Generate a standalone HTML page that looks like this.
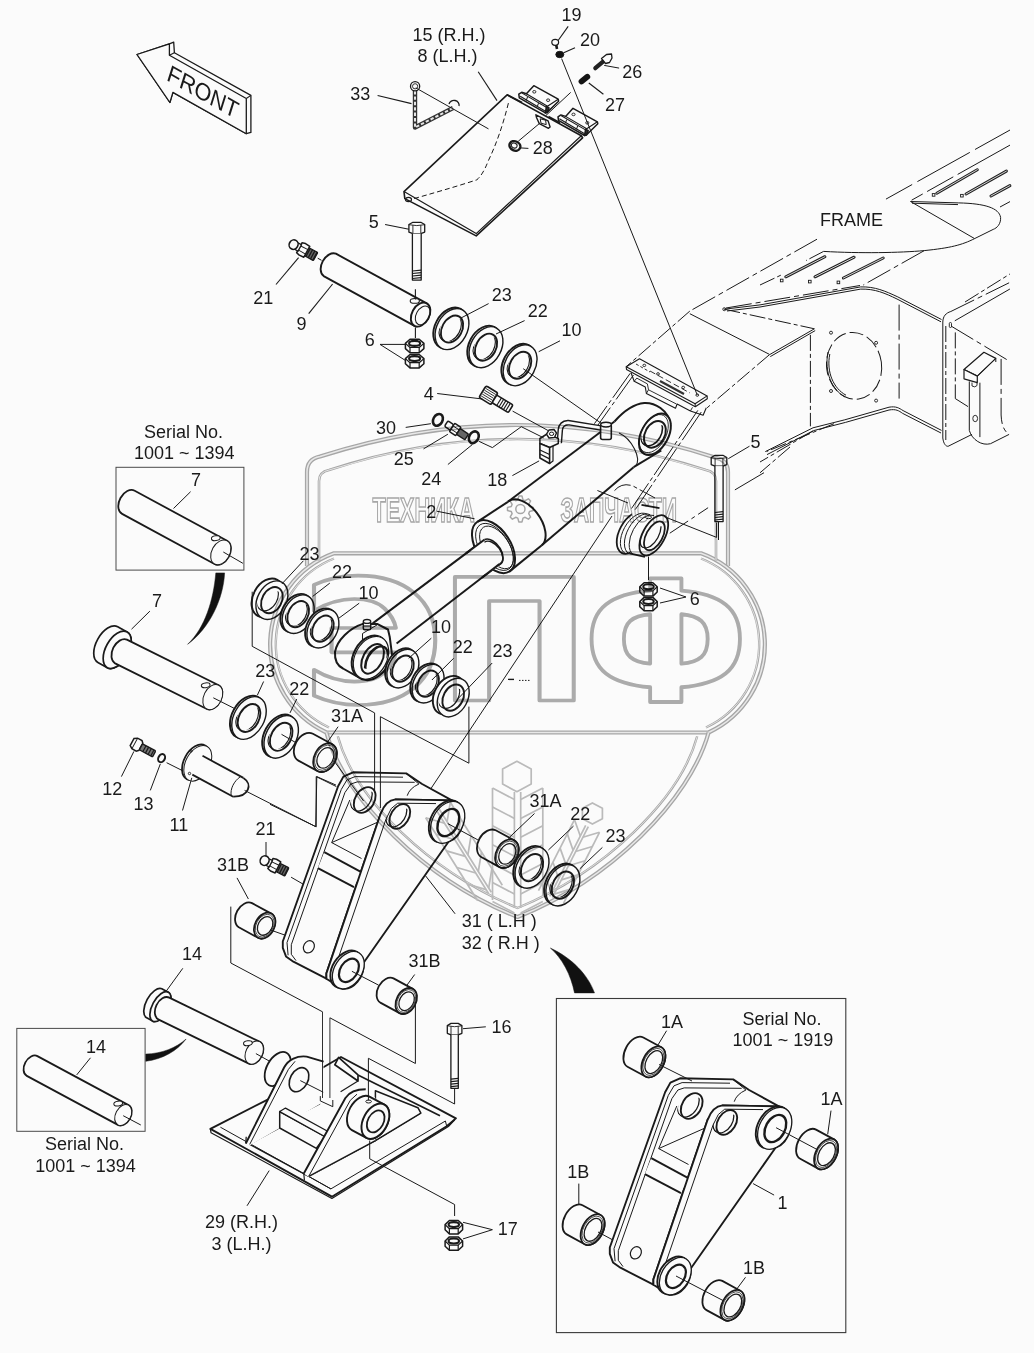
<!DOCTYPE html>
<html><head><meta charset="utf-8"><title>Parts diagram</title>
<style>
html,body{margin:0;padding:0;background:#fbfbfb;}
svg{display:block;will-change:transform;}
svg text{font-family:"Liberation Sans",sans-serif;}
</style></head><body>
<svg width="1034" height="1353" viewBox="0 0 1034 1353">
<rect width="1034" height="1353" fill="#fbfbfb"/>
<polygon points="137.0,54.5 169.4,43.9 173.7,42.1 174.4,52.7 250.9,95.4 250.9,132.4 246.3,133.7 172.9,92.4 169.9,102.5" fill="#fbfbfb" stroke="#1a1a1a" stroke-width="1.3" stroke-linejoin="round"/>
<polygon points="137.0,54.5 169.4,43.9 169.4,55.2 246.3,98.5 246.3,133.7 172.9,92.4 169.9,102.5" fill="#fbfbfb" stroke="#1a1a1a" stroke-width="1.3" stroke-linejoin="round"/>
<line x1="246.3" y1="98.5" x2="250.9" y2="95.4" stroke="#1a1a1a" stroke-width="1.1" stroke-linecap="butt"/>
<line x1="169.4" y1="55.2" x2="174.4" y2="52.7" stroke="#1a1a1a" stroke-width="1.1" stroke-linecap="butt"/>
<text x="0" y="0" font-size="23.2" fill="#1a1a1a" transform="matrix(0.872,0.49,-0.30,0.954,165.8,79.8)">FRONT</text>
<line x1="478.2" y1="71.7" x2="497.0" y2="100.6" stroke="#1a1a1a" stroke-width="1.1" stroke-linecap="butt"/>
<line x1="377.6" y1="95.5" x2="411.5" y2="103.6" stroke="#1a1a1a" stroke-width="1.1" stroke-linecap="butt"/>
<line x1="568.2" y1="26.4" x2="557.4" y2="41.5" stroke="#1a1a1a" stroke-width="1.1" stroke-linecap="butt"/>
<line x1="575.0" y1="47.8" x2="563.7" y2="52.8" stroke="#1a1a1a" stroke-width="1.1" stroke-linecap="butt"/>
<line x1="588.8" y1="83.0" x2="603.4" y2="94.3" stroke="#1a1a1a" stroke-width="1.1" stroke-linecap="butt"/>
<line x1="385.1" y1="224.5" x2="409.0" y2="229.3" stroke="#1a1a1a" stroke-width="1.1" stroke-linecap="butt"/>
<line x1="276.0" y1="284.5" x2="298.6" y2="257.6" stroke="#1a1a1a" stroke-width="1.1" stroke-linecap="butt"/>
<line x1="308.7" y1="313.7" x2="332.6" y2="284.0" stroke="#1a1a1a" stroke-width="1.1" stroke-linecap="butt"/>
<polygon points="507.1,94.8 404.0,191.6 404.8,198.6 476.2,235.9 582.6,137.8 581.3,135.8" fill="#fbfbfb" stroke="#1a1a1a" stroke-width="1.6" stroke-linejoin="round"/>
<polyline points="404.0,191.6 476.2,233.6 581.3,135.8" fill="none" stroke="#1a1a1a" stroke-width="1.2" stroke-linejoin="round"/>
<line x1="507.1" y1="94.8" x2="522.0" y2="102.5" stroke="#1a1a1a" stroke-width="1.6" stroke-linecap="butt"/>
<path d="M508.4,103.1 C503,125 496,145 488.2,161 C484,172 480,177 476.9,179.8 C455,187 430,194 414.1,198.6" fill="none" stroke="#1a1a1a" stroke-width="1.0" stroke-dasharray="5 3" stroke-linejoin="round" />
<ellipse cx="408.5" cy="199.5" rx="3.0" ry="2.2" transform="rotate(0.0 408.5 199.5)" fill="none" stroke="#1a1a1a" stroke-width="1.2"/>
<polyline points="415.0,91.0 415.0,127.5 453.0,108.0" fill="none" stroke="#333" stroke-width="4.4" stroke-linejoin="round"/>
<polyline points="415.0,91.0 415.0,127.5 453.0,108.0" fill="none" stroke="#e4e4e4" stroke-width="2.0" stroke-dasharray="3.4 2" stroke-linejoin="round"/>
<ellipse cx="415.1" cy="86.3" rx="4.6" ry="4.6" transform="rotate(0.0 415.1 86.3)" fill="none" stroke="#1a1a1a" stroke-width="1.3"/>
<ellipse cx="415.1" cy="86.3" rx="2.6" ry="2.6" transform="rotate(0.0 415.1 86.3)" fill="#fbfbfb" stroke="#1a1a1a" stroke-width="0.9"/>
<path d="M449,104 A5,4.5 0 0 1 459,106" fill="none" stroke="#1a1a1a" stroke-width="1.3" stroke-linejoin="round" />
<line x1="415.8" y1="87.9" x2="488.5" y2="128.9" stroke="#1a1a1a" stroke-width="1.0" stroke-linecap="butt"/>
<polygon points="533.8,85.7 558.2,99.2 558.6,101.2 547.2,112.4 545.4,112.9 519.3,97.8 518.8,94.2 521.7,92.3 526.4,93.8" fill="#fbfbfb" stroke="#1a1a1a" stroke-width="1.5" stroke-linejoin="round"/>
<polyline points="526.4,93.8 547.5,106.2 558.2,99.2" fill="none" stroke="#1a1a1a" stroke-width="1.1" stroke-linejoin="round"/>
<line x1="521.7" y1="92.9" x2="546.7" y2="107.5" stroke="#1a1a1a" stroke-width="1.1" stroke-linecap="butt"/>
<line x1="520.2" y1="96.2" x2="545.4" y2="111.2" stroke="#1a1a1a" stroke-width="1.1" stroke-linecap="butt"/>
<line x1="527.5" y1="97.0" x2="526.2" y2="100.6" stroke="#1a1a1a" stroke-width="1.0" stroke-linecap="butt"/>
<line x1="538.5" y1="103.2" x2="537.2" y2="106.8" stroke="#1a1a1a" stroke-width="1.0" stroke-linecap="butt"/>
<ellipse cx="534.3" cy="91.8" rx="1.6" ry="1.3" transform="rotate(0.0 534.3 91.8)" fill="none" stroke="#1a1a1a" stroke-width="0.9"/>
<ellipse cx="548.1" cy="100.2" rx="1.6" ry="1.3" transform="rotate(0.0 548.1 100.2)" fill="none" stroke="#1a1a1a" stroke-width="0.9"/>
<polygon points="545.4,112.9 547.2,112.4 549.0,108.0 546.5,106.5" fill="#333" stroke="#1a1a1a" stroke-width="1.6" stroke-linejoin="round"/>
<polygon points="573.0,108.3 597.4,121.8 597.8,123.8 586.4,135.0 584.6,135.5 558.5,120.4 558.0,116.8 560.9,114.9 565.6,116.4" fill="#fbfbfb" stroke="#1a1a1a" stroke-width="1.5" stroke-linejoin="round"/>
<polyline points="565.6,116.4 586.7,128.8 597.4,121.8" fill="none" stroke="#1a1a1a" stroke-width="1.1" stroke-linejoin="round"/>
<line x1="560.9" y1="115.5" x2="585.9" y2="130.1" stroke="#1a1a1a" stroke-width="1.1" stroke-linecap="butt"/>
<line x1="559.4" y1="118.8" x2="584.6" y2="133.8" stroke="#1a1a1a" stroke-width="1.1" stroke-linecap="butt"/>
<line x1="566.7" y1="119.6" x2="565.4" y2="123.2" stroke="#1a1a1a" stroke-width="1.0" stroke-linecap="butt"/>
<line x1="577.7" y1="125.8" x2="576.4" y2="129.4" stroke="#1a1a1a" stroke-width="1.0" stroke-linecap="butt"/>
<ellipse cx="573.5" cy="114.4" rx="1.6" ry="1.3" transform="rotate(0.0 573.5 114.4)" fill="none" stroke="#1a1a1a" stroke-width="0.9"/>
<ellipse cx="587.3" cy="122.8" rx="1.6" ry="1.3" transform="rotate(0.0 587.3 122.8)" fill="none" stroke="#1a1a1a" stroke-width="0.9"/>
<polygon points="584.6,135.5 586.4,135.0 588.2,130.6 585.7,129.1" fill="#333" stroke="#1a1a1a" stroke-width="1.6" stroke-linejoin="round"/>
<polygon points="535.9,114.8 548.1,120.9 550.1,127.0 548.5,128.3 539.3,123.6 536.5,117.5" fill="#fbfbfb" stroke="#1a1a1a" stroke-width="1.4" stroke-linejoin="round"/>
<polygon points="540.2,118.8 545.6,120.2 546.2,124.6 541.0,123.2" fill="none" stroke="#1a1a1a" stroke-width="1.0" stroke-linejoin="round"/>
<line x1="546.0" y1="115.4" x2="570.7" y2="92.4" stroke="#1a1a1a" stroke-width="1.0" stroke-linecap="butt"/>
<line x1="518.3" y1="141.2" x2="539.3" y2="123.6" stroke="#1a1a1a" stroke-width="1.0" stroke-linecap="butt"/>
<line x1="548.5" y1="116.5" x2="560.0" y2="122.8" stroke="#1a1a1a" stroke-width="1.6" stroke-linecap="butt"/>
<ellipse cx="514.9" cy="145.9" rx="5.6" ry="4.6" transform="rotate(25.0 514.9 145.9)" fill="#fbfbfb" stroke="#1a1a1a" stroke-width="2.4"/>
<ellipse cx="514.2" cy="145.5" rx="3.0" ry="2.4" transform="rotate(25.0 514.2 145.5)" fill="none" stroke="#1a1a1a" stroke-width="1.0"/>
<line x1="520.3" y1="147.9" x2="528.4" y2="148.4" stroke="#1a1a1a" stroke-width="1.0" stroke-linecap="butt"/>
<ellipse cx="555.2" cy="42.3" rx="3.4" ry="3.0" transform="rotate(0.0 555.2 42.3)" fill="#fbfbfb" stroke="#1a1a1a" stroke-width="1.2"/>
<line x1="556.2" y1="45.0" x2="557.0" y2="49.0" stroke="#1a1a1a" stroke-width="2.6" stroke-linecap="butt"/>
<ellipse cx="559.8" cy="54.5" rx="4.0" ry="3.2" transform="rotate(0.0 559.8 54.5)" fill="#111" stroke="#1a1a1a" stroke-width="1"/>
<line x1="595.3" y1="68.2" x2="604.5" y2="60.3" stroke="#222" stroke-width="4.2" stroke-linecap="round"/>
<polygon points="601.5,58.5 606.5,54.5 611.5,54.0 612.0,58.0 609.5,62.5 605.5,63.5" fill="#fbfbfb" stroke="#1a1a1a" stroke-width="1.3" stroke-linejoin="round"/>
<line x1="604.2" y1="65.4" x2="619.1" y2="68.1" stroke="#1a1a1a" stroke-width="1.0" stroke-linecap="butt"/>
<line x1="581.5" y1="81.5" x2="587.3" y2="76.8" stroke="#151515" stroke-width="5.8" stroke-linecap="round"/>
<polygon points="408.9,224.5 412.9,222.3 420.8,222.3 424.7,224.5 424.7,232.1 420.8,233.6 412.9,233.6 408.9,232.1" fill="#fbfbfb" stroke="#1a1a1a" stroke-width="1.3" stroke-linejoin="round"/>
<line x1="412.9" y1="225.1" x2="412.9" y2="233.6" stroke="#1a1a1a" stroke-width="0.9" stroke-linecap="butt"/>
<line x1="420.8" y1="225.1" x2="420.8" y2="233.6" stroke="#1a1a1a" stroke-width="0.9" stroke-linecap="butt"/>
<path d="M408.90000000000003,224.70000000000002 Q416.8,226.5 424.7,224.70000000000002" fill="none" stroke="#1a1a1a" stroke-width="0.9" stroke-linejoin="round" />
<polyline points="412.4,233.6 412.4,280.1 421.2,280.1 421.2,233.6" fill="#fbfbfb" stroke="#1a1a1a" stroke-width="1.3" stroke-linejoin="round"/>
<line x1="412.4" y1="278.5" x2="421.2" y2="277.7" stroke="#1a1a1a" stroke-width="1.2" stroke-linecap="butt"/>
<line x1="412.4" y1="276.0" x2="421.2" y2="275.2" stroke="#1a1a1a" stroke-width="1.2" stroke-linecap="butt"/>
<line x1="412.4" y1="273.5" x2="421.2" y2="272.7" stroke="#1a1a1a" stroke-width="1.2" stroke-linecap="butt"/>
<line x1="412.4" y1="271.0" x2="421.2" y2="270.2" stroke="#1a1a1a" stroke-width="1.2" stroke-linecap="butt"/>
<path d="M323.7,276.1 L414.5,325.8 A8.7,12.8 28.7 0 0 426.7,303.4 L335.9,253.7 A8.7,12.8 28.7 0 0 323.7,276.1 Z" fill="#fbfbfb" stroke="#1a1a1a" stroke-width="1.9" stroke-linejoin="round"/>
<ellipse cx="420.6" cy="314.6" rx="8.7" ry="12.8" transform="rotate(28.7 420.6 314.6)" fill="#fbfbfb" stroke="#1a1a1a" stroke-width="1.9"/>
<ellipse cx="422.8" cy="315.4" rx="6.6" ry="10.0" transform="rotate(28.5 422.8 315.4)" fill="none" stroke="#1a1a1a" stroke-width="1.0"/>
<ellipse cx="414.8" cy="300.9" rx="4.6" ry="2.4" transform="rotate(0.0 414.8 300.9)" fill="#fbfbfb" stroke="#1a1a1a" stroke-width="1.1"/>
<line x1="415.4" y1="289.3" x2="415.4" y2="299.5" stroke="#1a1a1a" stroke-width="1.1" stroke-linecap="butt"/>
<line x1="415.4" y1="327.6" x2="415.4" y2="338.0" stroke="#1a1a1a" stroke-width="1.1" stroke-linecap="butt"/>
<polygon points="405.4,358.6 410.0,354.5 419.2,354.5 423.9,358.6 423.9,363.8 419.2,367.9 410.0,367.9 405.4,363.8" fill="#fbfbfb" stroke="#1a1a1a" stroke-width="1.5" stroke-linejoin="round"/>
<polyline points="405.4,358.6 410.0,362.7 419.2,362.7 423.9,358.6" fill="none" stroke="#1a1a1a" stroke-width="1.2000000000000002" stroke-linejoin="round"/>
<line x1="410.0" y1="362.7" x2="410.0" y2="367.9" stroke="#1a1a1a" stroke-width="1.2000000000000002" stroke-linecap="butt"/>
<line x1="419.2" y1="362.7" x2="419.2" y2="367.9" stroke="#1a1a1a" stroke-width="1.2000000000000002" stroke-linecap="butt"/>
<ellipse cx="414.6" cy="358.6" rx="5.5" ry="2.5" transform="rotate(0.0 414.6 358.6)" fill="#fbfbfb" stroke="#1a1a1a" stroke-width="2.0999999999999996"/>
<polygon points="405.4,343.4 410.0,339.3 419.2,339.3 423.9,343.4 423.9,348.6 419.2,352.7 410.0,352.7 405.4,348.6" fill="#fbfbfb" stroke="#1a1a1a" stroke-width="1.5" stroke-linejoin="round"/>
<polyline points="405.4,343.4 410.0,347.5 419.2,347.5 423.9,343.4" fill="none" stroke="#1a1a1a" stroke-width="1.2000000000000002" stroke-linejoin="round"/>
<line x1="410.0" y1="347.5" x2="410.0" y2="352.7" stroke="#1a1a1a" stroke-width="1.2000000000000002" stroke-linecap="butt"/>
<line x1="419.2" y1="347.5" x2="419.2" y2="352.7" stroke="#1a1a1a" stroke-width="1.2000000000000002" stroke-linecap="butt"/>
<ellipse cx="414.6" cy="343.4" rx="5.5" ry="2.5" transform="rotate(0.0 414.6 343.4)" fill="#fbfbfb" stroke="#1a1a1a" stroke-width="2.0999999999999996"/>
<line x1="380.0" y1="344.4" x2="405.0" y2="344.4" stroke="#1a1a1a" stroke-width="1.0" stroke-linecap="butt"/>
<line x1="380.0" y1="344.4" x2="405.5" y2="360.5" stroke="#1a1a1a" stroke-width="1.0" stroke-linecap="butt"/>
<ellipse cx="450.2" cy="328.1" rx="15.2" ry="21.8" transform="rotate(28.5 450.2 328.1)" fill="#fbfbfb" stroke="#1a1a1a" stroke-width="1.9"/>
<ellipse cx="452.0" cy="329.1" rx="15.2" ry="21.8" transform="rotate(28.5 452.0 329.1)" fill="#fbfbfb" stroke="#1a1a1a" stroke-width="1.4249999999999998"/>
<ellipse cx="452.0" cy="329.1" rx="10.0" ry="14.4" transform="rotate(28.5 452.0 329.1)" fill="#fbfbfb" stroke="#1a1a1a" stroke-width="1.9"/>
<clipPath id="c4520_3291"><ellipse cx="452.0" cy="329.1" rx="10.0" ry="14.4" transform="rotate(28.5 452.0 329.1)"/></clipPath>
<ellipse cx="450.2" cy="328.1" rx="10.0" ry="14.4" transform="rotate(28.5 450.2 328.1)" fill="none" stroke="#1a1a1a" stroke-width="1.14" clip-path="url(#c4520_3291)"/>
<ellipse cx="484.2" cy="346.2" rx="15.2" ry="21.8" transform="rotate(28.5 484.2 346.2)" fill="#fbfbfb" stroke="#1a1a1a" stroke-width="1.9"/>
<ellipse cx="486.0" cy="347.2" rx="15.2" ry="21.8" transform="rotate(28.5 486.0 347.2)" fill="#fbfbfb" stroke="#1a1a1a" stroke-width="1.4249999999999998"/>
<ellipse cx="486.0" cy="347.2" rx="10.0" ry="14.4" transform="rotate(28.5 486.0 347.2)" fill="#fbfbfb" stroke="#1a1a1a" stroke-width="1.9"/>
<clipPath id="c4860_3472"><ellipse cx="486.0" cy="347.2" rx="10.0" ry="14.4" transform="rotate(28.5 486.0 347.2)"/></clipPath>
<ellipse cx="484.2" cy="346.2" rx="10.0" ry="14.4" transform="rotate(28.5 484.2 346.2)" fill="none" stroke="#1a1a1a" stroke-width="1.14" clip-path="url(#c4860_3472)"/>
<ellipse cx="518.3" cy="364.3" rx="15.2" ry="21.8" transform="rotate(28.5 518.3 364.3)" fill="#fbfbfb" stroke="#1a1a1a" stroke-width="1.9"/>
<ellipse cx="520.1" cy="365.3" rx="15.2" ry="21.8" transform="rotate(28.5 520.1 365.3)" fill="#fbfbfb" stroke="#1a1a1a" stroke-width="1.4249999999999998"/>
<ellipse cx="520.1" cy="365.3" rx="10.0" ry="14.4" transform="rotate(28.5 520.1 365.3)" fill="#fbfbfb" stroke="#1a1a1a" stroke-width="1.9"/>
<clipPath id="c5201_3653"><ellipse cx="520.1" cy="365.3" rx="10.0" ry="14.4" transform="rotate(28.5 520.1 365.3)"/></clipPath>
<ellipse cx="518.3" cy="364.3" rx="10.0" ry="14.4" transform="rotate(28.5 518.3 364.3)" fill="none" stroke="#1a1a1a" stroke-width="1.14" clip-path="url(#c5201_3653)"/>
<line x1="461.0" y1="318.0" x2="488.6" y2="303.6" stroke="#1a1a1a" stroke-width="1.0" stroke-linecap="butt"/>
<line x1="496.0" y1="334.0" x2="524.6" y2="320.6" stroke="#1a1a1a" stroke-width="1.0" stroke-linecap="butt"/>
<g transform="translate(293.6,244.6) rotate(28.5) scale(1.0)">
<rect x="14.5" y="-4.6" width="10.5" height="9.2" rx="1" fill="#666" stroke="#1a1a1a" stroke-width="1.3"/>
<line x1="16.5" y1="-4.6" x2="16.5" y2="4.6" stroke="#1a1a1a" stroke-width="1.3"/>
<line x1="19.1" y1="-4.6" x2="19.1" y2="4.6" stroke="#1a1a1a" stroke-width="1.3"/>
<line x1="21.7" y1="-4.6" x2="21.7" y2="4.6" stroke="#1a1a1a" stroke-width="1.3"/>
<line x1="24.3" y1="-4.6" x2="24.3" y2="4.6" stroke="#1a1a1a" stroke-width="1.3"/>
<path d="M6.5,-5.6 L10,-6.6 L15,-6.2 L15,6.2 L10,6.6 L6.5,5.6 Z" fill="#fbfbfb" stroke="#1a1a1a" stroke-width="1.5" stroke-linejoin="round"/>
<line x1="7" y1="-2.2" x2="15" y2="-2.4" stroke="#1a1a1a" stroke-width="0.9"/><line x1="7" y1="2.4" x2="15" y2="2.6" stroke="#1a1a1a" stroke-width="0.9"/>
<rect x="2" y="-3.6" width="5" height="7.2" fill="#fbfbfb" stroke="#1a1a1a" stroke-width="1.3"/>
<ellipse cx="0" cy="0" rx="4.4" ry="4.8" fill="#fbfbfb" stroke="#1a1a1a" stroke-width="1.6"/>
</g>
<line x1="317.7" y1="258.2" x2="321.5" y2="260.3" stroke="#1a1a1a" stroke-width="1.0" stroke-linecap="butt"/>
<g transform="translate(484.2,392.6) rotate(31.5)">
<rect x="-2" y="-6.8" width="14" height="13.6" rx="2" fill="#fbfbfb" stroke="#1a1a1a" stroke-width="1.7"/>
<line x1="-1" y1="-4.4" x2="11" y2="-4.4" stroke="#1a1a1a" stroke-width="0.8"/>
<line x1="-1" y1="-2.2" x2="11" y2="-2.2" stroke="#1a1a1a" stroke-width="0.8"/>
<line x1="-1" y1="0.0" x2="11" y2="0.0" stroke="#1a1a1a" stroke-width="0.8"/>
<line x1="-1" y1="2.2" x2="11" y2="2.2" stroke="#1a1a1a" stroke-width="0.8"/>
<line x1="-1" y1="4.4" x2="11" y2="4.4" stroke="#1a1a1a" stroke-width="0.8"/>
<rect x="12" y="-4.5" width="19" height="9" rx="1.5" fill="#fbfbfb" stroke="#1a1a1a" stroke-width="1.6"/>
<line x1="17.5" y1="-4.5" x2="17.5" y2="4.5" stroke="#1a1a1a" stroke-width="1.1"/>
<line x1="20.1" y1="-4.5" x2="20.1" y2="4.5" stroke="#1a1a1a" stroke-width="1.1"/>
<line x1="22.7" y1="-4.5" x2="22.7" y2="4.5" stroke="#1a1a1a" stroke-width="1.1"/>
<line x1="25.3" y1="-4.5" x2="25.3" y2="4.5" stroke="#1a1a1a" stroke-width="1.1"/>
<line x1="27.9" y1="-4.5" x2="27.9" y2="4.5" stroke="#1a1a1a" stroke-width="1.1"/>
</g>
<line x1="437.2" y1="393.5" x2="482.4" y2="399.0" stroke="#1a1a1a" stroke-width="1.0" stroke-linecap="butt"/>
<line x1="512.6" y1="411.1" x2="548.0" y2="430.5" stroke="#1a1a1a" stroke-width="1.0" stroke-linecap="butt"/>
<ellipse cx="437.9" cy="419.9" rx="4.6" ry="6.2" transform="rotate(28.0 437.9 419.9)" fill="none" stroke="#1a1a1a" stroke-width="2.6"/>
<ellipse cx="473.8" cy="437.3" rx="4.6" ry="6.2" transform="rotate(28.0 473.8 437.3)" fill="none" stroke="#1a1a1a" stroke-width="2.6"/>
<g transform="translate(446.2,423.6) rotate(33)">
<rect x="0" y="-3.2" width="7" height="6.4" rx="1.5" fill="#fbfbfb" stroke="#1a1a1a" stroke-width="1.5"/>
<rect x="7" y="-5" width="7.5" height="10" rx="1" fill="#fbfbfb" stroke="#1a1a1a" stroke-width="1.5"/>
<line x1="7" y1="-1.8" x2="14.5" y2="-1.8" stroke="#1a1a1a" stroke-width="0.9"/><line x1="7" y1="2" x2="14.5" y2="2" stroke="#1a1a1a" stroke-width="0.9"/>
<rect x="14.5" y="-3.4" width="10" height="6.8" rx="1" fill="#666" stroke="#1a1a1a" stroke-width="1.4"/>
</g>
<line x1="405.7" y1="427.4" x2="430.9" y2="423.7" stroke="#1a1a1a" stroke-width="1.0" stroke-linecap="butt"/>
<line x1="560.0" y1="340.8" x2="538.7" y2="351.7" stroke="#1a1a1a" stroke-width="1.0" stroke-linecap="butt"/>
<line x1="523.2" y1="368.7" x2="605.4" y2="426.2" stroke="#1a1a1a" stroke-width="1.0" stroke-linecap="butt"/>
<line x1="1010.0" y1="130.0" x2="879.0" y2="203.0" stroke="#1a1a1a" stroke-width="1.0" stroke-dasharray="40 6 60 6 30 200" stroke-linecap="butt"/>
<line x1="817.0" y1="239.2" x2="689.8" y2="311.1" stroke="#1a1a1a" stroke-width="1.0" stroke-dasharray="26 4 5 4" stroke-linecap="butt"/>
<line x1="689.8" y1="311.1" x2="626.2" y2="366.7" stroke="#1a1a1a" stroke-width="1.0" stroke-dasharray="16 3 4 3" stroke-linecap="butt"/>
<line x1="1010.0" y1="145.1" x2="911.6" y2="200.2" stroke="#1a1a1a" stroke-width="1.0" stroke-dasharray="60 5 30 5" stroke-linecap="butt"/>
<line x1="936.8" y1="193.2" x2="977.3" y2="169.7" stroke="#222" stroke-width="3.0" stroke-linecap="round"/>
<line x1="936.8" y1="193.2" x2="977.3" y2="169.7" stroke="#e8e8e8" stroke-width="0.9" stroke-linecap="round"/>
<line x1="966.0" y1="194.0" x2="1006.4" y2="171.1" stroke="#222" stroke-width="3.0" stroke-linecap="round"/>
<line x1="966.0" y1="194.0" x2="1006.4" y2="171.1" stroke="#e8e8e8" stroke-width="0.9" stroke-linecap="round"/>
<line x1="991.0" y1="196.0" x2="1009.9" y2="185.6" stroke="#222" stroke-width="3.0" stroke-linecap="round"/>
<line x1="991.0" y1="196.0" x2="1009.9" y2="185.6" stroke="#e8e8e8" stroke-width="0.9" stroke-linecap="round"/>
<rect x="932.3000000000001" y="193.6" width="2.6" height="2.6" fill="none" stroke="#1a1a1a" stroke-width="0.9"/>
<rect x="960.6" y="194.39999999999998" width="2.6" height="2.6" fill="none" stroke="#1a1a1a" stroke-width="0.9"/>
<path d="M910.5,201.5 L958.7,202.9 C985,203.5 999,208 1000.6,217.4 C1001,224 997,228 993.2,229.4 L974.6,238.6 C962,245 950,248 924.3,250.6 C900,252.8 860,253.5 823.6,251.4" fill="none" stroke="#1a1a1a" stroke-width="1.0" stroke-linejoin="round" />
<line x1="910.5" y1="201.5" x2="974.6" y2="238.6" stroke="#1a1a1a" stroke-width="1.0" stroke-linecap="butt"/>
<line x1="912.0" y1="203.2" x2="958.0" y2="204.6" stroke="#1a1a1a" stroke-width="1.0" stroke-linecap="butt"/>
<line x1="1000.0" y1="207.0" x2="1010.0" y2="201.6" stroke="#1a1a1a" stroke-width="1.0" stroke-dasharray="16 3 4 3" stroke-linecap="butt"/>
<line x1="785.8" y1="276.8" x2="824.9" y2="256.7" stroke="#222" stroke-width="3.0" stroke-linecap="round"/>
<line x1="785.8" y1="276.8" x2="824.9" y2="256.7" stroke="#e8e8e8" stroke-width="0.9" stroke-linecap="round"/>
<line x1="815.0" y1="276.8" x2="854.1" y2="257.2" stroke="#222" stroke-width="3.0" stroke-linecap="round"/>
<line x1="815.0" y1="276.8" x2="854.1" y2="257.2" stroke="#e8e8e8" stroke-width="0.9" stroke-linecap="round"/>
<line x1="843.4" y1="278.0" x2="883.2" y2="258.0" stroke="#222" stroke-width="3.0" stroke-linecap="round"/>
<line x1="843.4" y1="278.0" x2="883.2" y2="258.0" stroke="#e8e8e8" stroke-width="0.9" stroke-linecap="round"/>
<rect x="780.4000000000001" y="279.2" width="2.6" height="2.6" fill="none" stroke="#1a1a1a" stroke-width="0.9"/>
<rect x="808.5" y="280.3" width="2.6" height="2.6" fill="none" stroke="#1a1a1a" stroke-width="0.9"/>
<rect x="837.1" y="281.09999999999997" width="2.6" height="2.6" fill="none" stroke="#1a1a1a" stroke-width="0.9"/>
<line x1="924.3" y1="250.6" x2="863.3" y2="285.0" stroke="#1a1a1a" stroke-width="1.0" stroke-dasharray="26 4 5 4" stroke-linecap="butt"/>
<line x1="760.0" y1="285.0" x2="782.5" y2="274.4" stroke="#1a1a1a" stroke-width="1.0" stroke-dasharray="16 3 4 3" stroke-linecap="butt"/>
<line x1="823.6" y1="251.4" x2="806.0" y2="260.6" stroke="#1a1a1a" stroke-width="1.0" stroke-dasharray="16 3 4 3" stroke-linecap="butt"/>
<path d="M724.3,309.2 L760,304.9 L860.7,286.9 C875,286.5 885,291 897.8,296.9 L941.5,319.5" fill="none" stroke="#1a1a1a" stroke-width="1.0" stroke-linejoin="round" />
<path d="M727,311 L760,307 L860.7,289.1 C875,288.7 885,293.2 897,299 L941,321.8" fill="none" stroke="#1a1a1a" stroke-width="1.0" stroke-linejoin="round" />
<line x1="726.0" y1="308.0" x2="860.0" y2="285.5" stroke="#1a1a1a" stroke-width="1.0" stroke-dasharray="26 4 5 4" stroke-linecap="butt"/>
<ellipse cx="724.3" cy="309.2" rx="1.5" ry="1.5" transform="rotate(0.0 724.3 309.2)" fill="none" stroke="#1a1a1a" stroke-width="0.9"/>
<line x1="724.3" y1="309.2" x2="814.4" y2="328.8" stroke="#1a1a1a" stroke-width="1.0" stroke-dasharray="16 3 4 3" stroke-linecap="butt"/>
<line x1="814.4" y1="328.8" x2="769.3" y2="354.8" stroke="#1a1a1a" stroke-width="1.0" stroke-linecap="butt"/>
<line x1="815.2" y1="330.6" x2="770.3" y2="356.6" stroke="#1a1a1a" stroke-width="1.0" stroke-linecap="butt"/>
<line x1="769.3" y1="354.8" x2="707.1" y2="407.8" stroke="#1a1a1a" stroke-width="1.0" stroke-dasharray="16 3 4 3" stroke-linecap="butt"/>
<line x1="689.8" y1="313.7" x2="769.3" y2="354.3" stroke="#1a1a1a" stroke-width="1.0" stroke-linecap="butt"/>
<line x1="810.4" y1="334.9" x2="810.4" y2="426.3" stroke="#1a1a1a" stroke-width="1.0" stroke-dasharray="16 3 4 3" stroke-linecap="butt"/>
<line x1="899.1" y1="304.6" x2="899.1" y2="398.6" stroke="#1a1a1a" stroke-width="1.0" stroke-dasharray="26 4 5 4" stroke-linecap="butt"/>
<ellipse cx="854.1" cy="365.8" rx="27.5" ry="33.5" transform="rotate(-8.0 854.1 365.8)" fill="none" stroke="#1a1a1a" stroke-width="1.0" stroke-dasharray="14 4"/>
<path d="M828,352 C824,372 832,390 845,397" fill="none" stroke="#1a1a1a" stroke-width="1.0" stroke-linejoin="round" />
<path d="M829.8,354 C826.2,372 833.5,388.5 846,395.2" fill="none" stroke="#1a1a1a" stroke-width="1.0" stroke-linejoin="round" />
<ellipse cx="831.0" cy="332.7" rx="1.5" ry="1.5" transform="rotate(0.0 831.0 332.7)" fill="none" stroke="#1a1a1a" stroke-width="0.9"/>
<ellipse cx="876.1" cy="342.8" rx="1.5" ry="1.5" transform="rotate(0.0 876.1 342.8)" fill="none" stroke="#1a1a1a" stroke-width="0.9"/>
<ellipse cx="831.0" cy="391.0" rx="1.5" ry="1.5" transform="rotate(0.0 831.0 391.0)" fill="none" stroke="#1a1a1a" stroke-width="0.9"/>
<ellipse cx="876.1" cy="400.6" rx="1.5" ry="1.5" transform="rotate(0.0 876.1 400.6)" fill="none" stroke="#1a1a1a" stroke-width="0.9"/>
<path d="M765.3,451.6 L813,427.8 L844.8,419.8 L889,407.2 C896,406 899,408 903.1,410.6 L941.5,430.4" fill="none" stroke="#1a1a1a" stroke-width="1.0" stroke-linejoin="round" />
<path d="M767,454.6 L813.6,430.6 L845.5,422.4 L889,410 C896,408.8 899,410.8 902.5,413.3 L941,433" fill="none" stroke="#1a1a1a" stroke-width="1.0" stroke-linejoin="round" />
<line x1="834.0" y1="423.7" x2="766.7" y2="451.5" stroke="#1a1a1a" stroke-width="1.0" stroke-dasharray="16 3 4 3" stroke-linecap="butt"/>
<line x1="813.0" y1="431.0" x2="760.0" y2="462.0" stroke="#1a1a1a" stroke-width="1.0" stroke-dasharray="16 3 4 3" stroke-linecap="butt"/>
<line x1="790.0" y1="447.0" x2="760.0" y2="472.8" stroke="#1a1a1a" stroke-width="1.0" stroke-dasharray="16 3 4 3" stroke-linecap="butt"/>
<line x1="764.0" y1="472.7" x2="734.9" y2="489.9" stroke="#1a1a1a" stroke-width="1.0" stroke-linecap="butt"/>
<path d="M942.8,438 L942.8,322 C943,316 946,313 950.8,311.5" fill="none" stroke="#1a1a1a" stroke-width="1.0" stroke-linejoin="round" />
<path d="M942.8,438 C943.5,444 946,446.5 948.1,446.3 L972,434.4" fill="none" stroke="#1a1a1a" stroke-width="1.0" stroke-linejoin="round" />
<line x1="945.8" y1="326.0" x2="945.8" y2="440.0" stroke="#1a1a1a" stroke-width="1.0" stroke-dasharray="16 3 4 3" stroke-linecap="butt"/>
<line x1="950.8" y1="311.5" x2="1009.9" y2="282.4" stroke="#1a1a1a" stroke-width="1.0" stroke-dasharray="26 4 5 4" stroke-linecap="butt"/>
<line x1="954.8" y1="320.8" x2="1009.9" y2="289.0" stroke="#1a1a1a" stroke-width="1.0" stroke-linecap="butt"/>
<line x1="965.0" y1="302.0" x2="1009.9" y2="274.0" stroke="#1a1a1a" stroke-width="1.0" stroke-dasharray="16 3 4 3" stroke-linecap="butt"/>
<rect x="949.3" y="322.5" width="2.2" height="5" rx="1" fill="none" stroke="#1a1a1a" stroke-width="0.9"/>
<line x1="951.0" y1="326.0" x2="1009.1" y2="361.0" stroke="#1a1a1a" stroke-width="1.0" stroke-dasharray="26 4 5 4" stroke-linecap="butt"/>
<line x1="955.3" y1="332.4" x2="955.3" y2="398.6" stroke="#1a1a1a" stroke-width="1.0" stroke-dasharray="16 3 4 3" stroke-linecap="butt"/>
<line x1="955.3" y1="398.6" x2="968.0" y2="406.6" stroke="#1a1a1a" stroke-width="1.0" stroke-linecap="butt"/>
<polygon points="964.0,369.5 983.9,352.3 995.8,358.4 977.3,376.1" fill="#fbfbfb" stroke="#1a1a1a" stroke-width="1.2" stroke-linejoin="round"/>
<polygon points="964.0,369.5 977.3,376.1 977.3,382.7 964.0,378.8" fill="#fbfbfb" stroke="#1a1a1a" stroke-width="1.2" stroke-linejoin="round"/>
<polyline points="977.3,376.1 995.8,358.4 995.8,362.0" fill="none" stroke="#1a1a1a" stroke-width="1.0" stroke-linejoin="round"/>
<line x1="969.3" y1="381.4" x2="969.3" y2="430.4" stroke="#1a1a1a" stroke-width="1.0" stroke-linecap="butt"/>
<line x1="979.9" y1="382.7" x2="979.9" y2="437.1" stroke="#1a1a1a" stroke-width="1.0" stroke-linecap="butt"/>
<path d="M972,382.5 L972,386 Q975,388 977,385.5 L977,383" fill="none" stroke="#1a1a1a" stroke-width="0.9" stroke-linejoin="round" />
<ellipse cx="975.2" cy="418.5" rx="2.4" ry="3.2" transform="rotate(0.0 975.2 418.5)" fill="none" stroke="#1a1a1a" stroke-width="0.9"/>
<path d="M969.3,430.4 C972,440 982,446 990.5,443.7 L1009.1,434.4" fill="none" stroke="#1a1a1a" stroke-width="1.0" stroke-linejoin="round" />
<path d="M1001.1,358.9 L1001.1,415 C1001.5,425 1004,431 1009.1,434.4" fill="none" stroke="#1a1a1a" stroke-width="1.0" stroke-dasharray="26 4 5 4" stroke-linejoin="round" />
<polygon points="626.2,366.7 639.5,358.8 707.1,395.9 695.1,403.8" fill="#fbfbfb" stroke="#1a1a1a" stroke-width="1.1" stroke-linejoin="round"/>
<polyline points="626.2,366.7 626.5,369.5 695.3,406.8 707.3,398.8 707.1,395.9" fill="none" stroke="#1a1a1a" stroke-width="1.1" stroke-linejoin="round"/>
<line x1="695.1" y1="403.8" x2="695.3" y2="406.8" stroke="#1a1a1a" stroke-width="1.0" stroke-linecap="butt"/>
<polyline points="631.0,372.8 634.2,381.3 645.3,387.1 646.4,393.5 675.5,408.3 677.1,404.1 690.4,411.0 703.1,415.2 706.3,407.8" fill="none" stroke="#1a1a1a" stroke-width="1.1" stroke-linejoin="round"/>
<polyline points="634.2,381.3 636.8,378.1 647.4,383.9 648.5,389.8 676.6,404.1" fill="none" stroke="#1a1a1a" stroke-width="0.9" stroke-linejoin="round"/>
<polyline points="646.4,393.5 648.5,389.8" fill="none" stroke="#1a1a1a" stroke-width="0.9" stroke-linejoin="round"/>
<line x1="690.4" y1="411.0" x2="692.5" y2="407.3" stroke="#1a1a1a" stroke-width="0.9" stroke-linecap="butt"/>
<ellipse cx="644.3" cy="365.4" rx="1.4" ry="1.2" transform="rotate(0.0 644.3 365.4)" fill="none" stroke="#1a1a1a" stroke-width="0.9"/>
<ellipse cx="658.0" cy="373.9" rx="1.4" ry="1.2" transform="rotate(0.0 658.0 373.9)" fill="none" stroke="#1a1a1a" stroke-width="0.9"/>
<ellipse cx="683.2" cy="387.4" rx="1.4" ry="1.2" transform="rotate(0.0 683.2 387.4)" fill="none" stroke="#1a1a1a" stroke-width="0.9"/>
<ellipse cx="697.3" cy="395.1" rx="1.4" ry="1.2" transform="rotate(0.0 697.3 395.1)" fill="none" stroke="#1a1a1a" stroke-width="0.9"/>
<line x1="660.0" y1="381.0" x2="684.0" y2="394.0" stroke="#333" stroke-width="2.2" stroke-linecap="butt"/>
<line x1="636.0" y1="364.0" x2="650.0" y2="372.0" stroke="#1a1a1a" stroke-width="0.9" stroke-dasharray="3 2" stroke-linecap="butt"/>
<line x1="650.0" y1="371.0" x2="690.0" y2="393.0" stroke="#1a1a1a" stroke-width="0.9" stroke-dasharray="6 3" stroke-linecap="butt"/>
<line x1="630.2" y1="373.3" x2="594.4" y2="423.7" stroke="#1a1a1a" stroke-width="1.0" stroke-dasharray="30 3 4 3" stroke-linecap="butt"/>
<line x1="633.5" y1="375.0" x2="598.0" y2="425.0" stroke="#1a1a1a" stroke-width="1.0" stroke-dasharray="30 3 4 3" stroke-linecap="butt"/>
<line x1="697.8" y1="410.4" x2="631.5" y2="508.5" stroke="#1a1a1a" stroke-width="1.0" stroke-dasharray="34 3 4 3" stroke-linecap="butt"/>
<line x1="701.3" y1="412.0" x2="635.0" y2="510.0" stroke="#1a1a1a" stroke-width="1.0" stroke-dasharray="34 3 4 3" stroke-linecap="butt"/>
<line x1="561.6" y1="58.6" x2="697.3" y2="395.1" stroke="#1a1a1a" stroke-width="1.0" stroke-linecap="butt"/>
<polygon points="711.2,457.5 715.1,455.3 722.9,455.3 726.8,457.5 726.8,464.6 722.9,466.1 715.1,466.1 711.2,464.6" fill="#fbfbfb" stroke="#1a1a1a" stroke-width="1.3" stroke-linejoin="round"/>
<line x1="715.1" y1="458.1" x2="715.1" y2="466.1" stroke="#1a1a1a" stroke-width="0.9" stroke-linecap="butt"/>
<line x1="722.9" y1="458.1" x2="722.9" y2="466.1" stroke="#1a1a1a" stroke-width="0.9" stroke-linecap="butt"/>
<path d="M711.2,457.7 Q719,459.5 726.8,457.7" fill="none" stroke="#1a1a1a" stroke-width="0.9" stroke-linejoin="round" />
<polyline points="714.9,466.1 714.9,521.6 723.1,521.6 723.1,466.1" fill="#fbfbfb" stroke="#1a1a1a" stroke-width="1.3" stroke-linejoin="round"/>
<line x1="714.9" y1="520.0" x2="723.1" y2="519.2" stroke="#1a1a1a" stroke-width="1.2" stroke-linecap="butt"/>
<line x1="714.9" y1="517.5" x2="723.1" y2="516.7" stroke="#1a1a1a" stroke-width="1.2" stroke-linecap="butt"/>
<line x1="714.9" y1="515.0" x2="723.1" y2="514.2" stroke="#1a1a1a" stroke-width="1.2" stroke-linecap="butt"/>
<line x1="714.9" y1="512.5" x2="723.1" y2="511.7" stroke="#1a1a1a" stroke-width="1.2" stroke-linecap="butt"/>
<line x1="718.5" y1="521.7" x2="718.5" y2="540.0" stroke="#1a1a1a" stroke-width="1.0" stroke-linecap="butt"/>
<line x1="728.3" y1="458.7" x2="749.5" y2="446.2" stroke="#1a1a1a" stroke-width="1.0" stroke-linecap="butt"/>
<polygon points="372.7,623.4 483.4,540.4 496.0,566.8 396.6,643.5" fill="#fbfbfb" stroke="none" stroke-width="0" stroke-linejoin="round"/>
<line x1="372.7" y1="623.4" x2="483.4" y2="540.4" stroke="#1a1a1a" stroke-width="2.0" stroke-linecap="butt"/>
<line x1="396.6" y1="643.5" x2="498.0" y2="565.2" stroke="#1a1a1a" stroke-width="2.0" stroke-linecap="butt"/>
<path d="M477.4,521.8 L507.9,501.8 L610.2,425.7 L633.6,467.2 L541.8,545.3 L509.6,571.4 A17,29.6 -33 0 1 477.4,521.8 Z" fill="#fbfbfb" stroke="none" stroke-width="0" stroke-linejoin="round" />
<ellipse cx="493.5" cy="546.6" rx="17.0" ry="29.6" transform="rotate(-33.0 493.5 546.6)" fill="#fbfbfb" stroke="#1a1a1a" stroke-width="2.0"/>
<ellipse cx="494.5" cy="546.9" rx="14.6" ry="26.4" transform="rotate(-33.0 494.5 546.9)" fill="none" stroke="#1a1a1a" stroke-width="0.9"/>
<ellipse cx="496.5" cy="547.4" rx="12.8" ry="24.0" transform="rotate(-33.0 496.5 547.4)" fill="none" stroke="#1a1a1a" stroke-width="0.9"/>
<ellipse cx="492.5" cy="553.2" rx="8.2" ry="13.6" transform="rotate(-36.0 492.5 553.2)" fill="#fbfbfb" stroke="#1a1a1a" stroke-width="1.4"/>
<polygon points="470.0,550.4 483.4,540.4 499.0,566.2 486.0,574.6" fill="#fbfbfb" stroke="none" stroke-width="0" stroke-linejoin="round"/>
<line x1="466.0" y1="553.4" x2="484.6" y2="539.5" stroke="#1a1a1a" stroke-width="2.0" stroke-linecap="butt"/>
<line x1="482.0" y1="577.6" x2="499.4" y2="564.1" stroke="#1a1a1a" stroke-width="2.0" stroke-linecap="butt"/>
<path d="M484.6,539.5 A8.2,13.6 -36 0 1 499.4,564.1" fill="none" stroke="#1a1a1a" stroke-width="1.6" stroke-linejoin="round" />
<line x1="477.4" y1="521.8" x2="507.9" y2="501.8" stroke="#1a1a1a" stroke-width="2.0" stroke-linecap="butt"/>
<line x1="509.6" y1="571.4" x2="541.8" y2="545.3" stroke="#1a1a1a" stroke-width="2.0" stroke-linecap="butt"/>
<path d="M507.9,501.8 A16,27.6 -36 0 1 541.8,545.3" fill="none" stroke="#1a1a1a" stroke-width="2.0" stroke-linejoin="round" />
<line x1="507.9" y1="501.8" x2="614.5" y2="421.5" stroke="#1a1a1a" stroke-width="2.0" stroke-linecap="butt"/>
<line x1="541.8" y1="545.3" x2="633.6" y2="467.2" stroke="#1a1a1a" stroke-width="2.0" stroke-linecap="butt"/>
<path d="M616.5,420 C622,413 633,404 644.3,403 C655,402.5 668,410 670.5,424 C672.5,438 668,445 661.3,450.5 L635.6,468.5 Z" fill="#fbfbfb" stroke="none" stroke-width="0" stroke-linejoin="round" />
<path d="M614.5,421.5 C622,413 633,404 644.3,403 C655,402.5 668,410 670.5,424" fill="none" stroke="#1a1a1a" stroke-width="2.0" stroke-linejoin="round" />
<path d="M661.3,450.5 L633.6,467.2" fill="none" stroke="#1a1a1a" stroke-width="2.0" stroke-linejoin="round" />
<path d="M619,433 A11,21 -36 0 1 635.6,466" fill="none" stroke="#1a1a1a" stroke-width="1.1" stroke-linejoin="round" />
<ellipse cx="654.9" cy="434.3" rx="13.5" ry="22.4" transform="rotate(28.5 654.9 434.3)" fill="#fbfbfb" stroke="#1a1a1a" stroke-width="2.0"/>
<ellipse cx="654.9" cy="434.3" rx="9.8" ry="14.2" transform="rotate(28.5 654.9 434.3)" fill="#fbfbfb" stroke="#1a1a1a" stroke-width="2.0"/>
<clipPath id="eyec"><ellipse cx="654.9" cy="434.3" rx="9.8" ry="14.2" transform="rotate(28.5 654.9 434.3)"/></clipPath>
<ellipse cx="651.5" cy="432.5" rx="9.8" ry="14.2" transform="rotate(28.5 651.5 432.5)" fill="none" stroke="#1a1a1a" stroke-width="1.6" clip-path="url(#eyec)"/>
<ellipse cx="653.7" cy="433.6" rx="12.3" ry="20.6" transform="rotate(28.5 653.7 433.6)" fill="none" stroke="#1a1a1a" stroke-width="0.8"/>
<path d="M559.3,443 L560.3,430 Q561,423 568,422.6 L601,428" fill="none" stroke="#1a1a1a" stroke-width="5.6" stroke-linejoin="round" />
<path d="M559.3,443 L560.3,430 Q561,423 568,422.6 L601,428" fill="none" stroke="#fbfbfb" stroke-width="2.8" stroke-linejoin="round" />
<rect x="600.6" y="424" width="10.7" height="15.5" rx="2" fill="#fbfbfb" stroke="#1a1a1a" stroke-width="1.6"/>
<ellipse cx="606.0" cy="424.6" rx="5.3" ry="2.4" transform="rotate(0.0 606.0 424.6)" fill="#fbfbfb" stroke="#1a1a1a" stroke-width="1.4"/>
<polygon points="539.9,438.5 547.0,434.0 558.3,438.5 558.3,443.5 549.6,447.5 539.9,443.5" fill="#fbfbfb" stroke="#1a1a1a" stroke-width="1.5" stroke-linejoin="round"/>
<polygon points="546.5,434.2 549.0,430.0 554.0,429.5 556.5,433.0 554.5,437.5 549.0,438.0" fill="#fbfbfb" stroke="#1a1a1a" stroke-width="1.4" stroke-linejoin="round"/>
<ellipse cx="551.6" cy="433.8" rx="2.2" ry="1.7" transform="rotate(0.0 551.6 433.8)" fill="none" stroke="#1a1a1a" stroke-width="1.0"/>
<polygon points="539.9,443.5 539.9,458.0 549.6,463.5 549.6,447.5" fill="#fbfbfb" stroke="#1a1a1a" stroke-width="1.6" stroke-linejoin="round"/>
<line x1="539.9" y1="450.0" x2="549.6" y2="454.5" stroke="#1a1a1a" stroke-width="1.3" stroke-linecap="butt"/>
<line x1="539.9" y1="454.0" x2="549.6" y2="458.8" stroke="#1a1a1a" stroke-width="1.3" stroke-linecap="butt"/>
<polyline points="549.6,463.5 553.0,461.0 553.0,446.0" fill="none" stroke="#1a1a1a" stroke-width="1.2" stroke-linejoin="round"/>
<path d="M362.3,624.1 C350,628 337,640 335,652 C334.5,660 338,666 343,668.5 L362.3,679.4 C374,683 386,673 392.3,656.8 L389.7,636.7 L388,629.5 L377.1,623.9 Z" fill="#fbfbfb" stroke="#1a1a1a" stroke-width="2.0" stroke-linejoin="round" />
<line x1="377.1" y1="624.9" x2="362.5" y2="633.5" stroke="#1a1a1a" stroke-width="1.0" stroke-linecap="butt"/>
<line x1="362.5" y1="633.5" x2="362.3" y2="678.4" stroke="#1a1a1a" stroke-width="1.0" stroke-linecap="butt"/>
<ellipse cx="369.4" cy="657.0" rx="15.9" ry="22.8" transform="rotate(28.5 369.4 657.0)" fill="#fbfbfb" stroke="#1a1a1a" stroke-width="2.0"/>
<ellipse cx="371.0" cy="657.8" rx="15.9" ry="22.8" transform="rotate(28.5 371.0 657.8)" fill="#fbfbfb" stroke="#1a1a1a" stroke-width="1.2"/>
<ellipse cx="372.6" cy="658.8" rx="9.6" ry="16.0" transform="rotate(28.5 372.6 658.8)" fill="#fbfbfb" stroke="#1a1a1a" stroke-width="2.0"/>
<clipPath id="eyed"><ellipse cx="372.6" cy="658.8" rx="9.6" ry="16" transform="rotate(28.5 372.6 658.8)"/></clipPath>
<ellipse cx="376.6" cy="661" rx="9.6" ry="16" transform="rotate(28.5 376.6 661)" fill="none" stroke="#1a1a1a" stroke-width="2.6" clip-path="url(#eyed)"/>
<rect x="363.3" y="621.2" width="7.4" height="8.6" rx="1.5" fill="#fbfbfb" stroke="#1a1a1a" stroke-width="1.5"/>
<ellipse cx="367.0" cy="621.4" rx="3.7" ry="1.9" transform="rotate(0.0 367.0 621.4)" fill="#fbfbfb" stroke="#1a1a1a" stroke-width="1.3"/>
<line x1="363.5" y1="626.0" x2="370.6" y2="626.0" stroke="#1a1a1a" stroke-width="1.2" stroke-linecap="butt"/>
<ellipse cx="632.5" cy="532.8" rx="13.0" ry="22.8" transform="rotate(28.5 632.5 532.8)" fill="#fbfbfb" stroke="#1a1a1a" stroke-width="1.8"/>
<polygon points="659.0,507.7 642.0,505.8 632.0,511.5 630.5,553.2 641.0,556.2 652.0,556.5" fill="#fbfbfb" stroke="none" stroke-width="0" stroke-linejoin="round"/>
<line x1="659.5" y1="508.2" x2="641.5" y2="504.8" stroke="#1a1a1a" stroke-width="1.8" stroke-linecap="butt"/>
<line x1="629.5" y1="553.3" x2="645.0" y2="556.8" stroke="#1a1a1a" stroke-width="1.8" stroke-linecap="butt"/>
<path d="M625.3,553.5 A13.0,22.4 28.5 0 1 646.7,514.1" fill="none" stroke="#1a1a1a" stroke-width="1.0"/>
<path d="M628.9,553.7 A12.6,22.2 28.5 0 1 650.1,514.7" fill="none" stroke="#1a1a1a" stroke-width="1.0"/>
<path d="M633.0,554.1 A12.0,22.0 28.5 0 1 654.0,515.5" fill="none" stroke="#1a1a1a" stroke-width="1.0"/>
<ellipse cx="653.8" cy="535.3" rx="11.1" ry="22.2" transform="rotate(28.5 653.8 535.3)" fill="#fbfbfb" stroke="#1a1a1a" stroke-width="1.8"/>
<ellipse cx="654.4" cy="535.8" rx="8.2" ry="15.8" transform="rotate(28.5 654.4 535.8)" fill="#fbfbfb" stroke="#1a1a1a" stroke-width="1.8"/>
<clipPath id="bossc"><ellipse cx="654.4" cy="535.8" rx="8.2" ry="15.8" transform="rotate(28.5 654.4 535.8)"/></clipPath>
<ellipse cx="650.6" cy="533.8" rx="8.2" ry="15.8" transform="rotate(28.5 650.6 533.8)" fill="none" stroke="#1a1a1a" stroke-width="1.3" clip-path="url(#bossc)"/>
<ellipse cx="648.5" cy="517.2" rx="3.0" ry="1.5" transform="rotate(0.0 648.5 517.2)" fill="#fbfbfb" stroke="#1a1a1a" stroke-width="1.0"/>
<line x1="648.5" y1="556.6" x2="648.5" y2="580.0" stroke="#1a1a1a" stroke-width="1.0" stroke-linecap="butt"/>
<polygon points="639.8,601.5 644.1,597.4 652.9,597.4 657.2,601.5 657.2,606.7 652.9,610.8 644.1,610.8 639.8,606.7" fill="#fbfbfb" stroke="#1a1a1a" stroke-width="1.5" stroke-linejoin="round"/>
<polyline points="639.8,601.5 644.1,605.6 652.9,605.6 657.2,601.5" fill="none" stroke="#1a1a1a" stroke-width="1.2000000000000002" stroke-linejoin="round"/>
<line x1="644.1" y1="605.6" x2="644.1" y2="610.8" stroke="#1a1a1a" stroke-width="1.2000000000000002" stroke-linecap="butt"/>
<line x1="652.9" y1="605.6" x2="652.9" y2="610.8" stroke="#1a1a1a" stroke-width="1.2000000000000002" stroke-linecap="butt"/>
<ellipse cx="648.5" cy="601.5" rx="5.2" ry="2.5" transform="rotate(0.0 648.5 601.5)" fill="#fbfbfb" stroke="#1a1a1a" stroke-width="2.0999999999999996"/>
<polygon points="639.8,586.8 644.1,582.7 652.9,582.7 657.2,586.8 657.2,592.0 652.9,596.1 644.1,596.1 639.8,592.0" fill="#fbfbfb" stroke="#1a1a1a" stroke-width="1.5" stroke-linejoin="round"/>
<polyline points="639.8,586.8 644.1,590.9 652.9,590.9 657.2,586.8" fill="none" stroke="#1a1a1a" stroke-width="1.2000000000000002" stroke-linejoin="round"/>
<line x1="644.1" y1="590.9" x2="644.1" y2="596.1" stroke="#1a1a1a" stroke-width="1.2000000000000002" stroke-linecap="butt"/>
<line x1="652.9" y1="590.9" x2="652.9" y2="596.1" stroke="#1a1a1a" stroke-width="1.2000000000000002" stroke-linecap="butt"/>
<ellipse cx="648.5" cy="586.8" rx="5.2" ry="2.5" transform="rotate(0.0 648.5 586.8)" fill="#fbfbfb" stroke="#1a1a1a" stroke-width="2.0999999999999996"/>
<line x1="660.0" y1="588.0" x2="686.0" y2="597.0" stroke="#1a1a1a" stroke-width="1.0" stroke-linecap="butt"/>
<line x1="660.0" y1="603.0" x2="686.0" y2="597.0" stroke="#1a1a1a" stroke-width="1.0" stroke-linecap="butt"/>
<line x1="669.8" y1="533.2" x2="708.1" y2="507.7" stroke="#1a1a1a" stroke-width="1.0" stroke-dasharray="22 4 4 4" stroke-linecap="butt"/>
<line x1="716.6" y1="522.6" x2="716.6" y2="537.4" stroke="#1a1a1a" stroke-width="1.0" stroke-linecap="butt"/>
<line x1="716.6" y1="537.4" x2="664.0" y2="516.5" stroke="#1a1a1a" stroke-width="1.0" stroke-linecap="butt"/>
<line x1="628.0" y1="503.0" x2="597.4" y2="490.5" stroke="#1a1a1a" stroke-width="1.0" stroke-linecap="butt"/>
<path d="M614.5,490.6 Q622,482 633,486 L655,498" fill="none" stroke="#1a1a1a" stroke-width="1.0" stroke-dasharray="18 3 4 3" stroke-linejoin="round" />
<line x1="612.0" y1="516.0" x2="430.0" y2="790.0" stroke="#1a1a1a" stroke-width="1.0" stroke-linecap="butt"/>
<line x1="423.5" y1="448.9" x2="447.9" y2="434.2" stroke="#1a1a1a" stroke-width="1.0" stroke-linecap="butt"/>
<line x1="447.9" y1="464.5" x2="472.4" y2="444.5" stroke="#1a1a1a" stroke-width="1.0" stroke-linecap="butt"/>
<line x1="512.4" y1="475.6" x2="539.1" y2="460.9" stroke="#1a1a1a" stroke-width="1.0" stroke-linecap="butt"/>
<line x1="436.8" y1="511.2" x2="474.6" y2="518.8" stroke="#1a1a1a" stroke-width="1.0" stroke-linecap="butt"/>
<polyline points="479.1,441.4 492.4,447.6 521.3,426.7 543.6,437.8" fill="none" stroke="#1a1a1a" stroke-width="1.0" stroke-linejoin="round"/>
<ellipse cx="267.5" cy="597.8" rx="14.4" ry="20.5" transform="rotate(28.5 267.5 597.8)" fill="#fbfbfb" stroke="#1a1a1a" stroke-width="1.9"/>
<ellipse cx="271.9" cy="600.2" rx="14.4" ry="20.5" transform="rotate(28.5 271.9 600.2)" fill="#fbfbfb" stroke="#1a1a1a" stroke-width="1.4249999999999998"/>
<ellipse cx="271.9" cy="600.2" rx="9.8" ry="13.9" transform="rotate(28.5 271.9 600.2)" fill="#fbfbfb" stroke="#1a1a1a" stroke-width="1.9"/>
<clipPath id="c2719_6002"><ellipse cx="271.9" cy="600.2" rx="9.8" ry="13.9" transform="rotate(28.5 271.9 600.2)"/></clipPath>
<ellipse cx="267.5" cy="597.8" rx="9.8" ry="13.9" transform="rotate(28.5 267.5 597.8)" fill="none" stroke="#1a1a1a" stroke-width="1.14" clip-path="url(#c2719_6002)"/>
<ellipse cx="296.4" cy="613.2" rx="14.4" ry="20.5" transform="rotate(28.5 296.4 613.2)" fill="#fbfbfb" stroke="#1a1a1a" stroke-width="1.9"/>
<ellipse cx="298.2" cy="614.2" rx="14.4" ry="20.5" transform="rotate(28.5 298.2 614.2)" fill="#fbfbfb" stroke="#1a1a1a" stroke-width="1.4249999999999998"/>
<ellipse cx="298.2" cy="614.2" rx="9.8" ry="13.9" transform="rotate(28.5 298.2 614.2)" fill="#fbfbfb" stroke="#1a1a1a" stroke-width="1.9"/>
<clipPath id="c2982_6142"><ellipse cx="298.2" cy="614.2" rx="9.8" ry="13.9" transform="rotate(28.5 298.2 614.2)"/></clipPath>
<ellipse cx="296.4" cy="613.2" rx="9.8" ry="13.9" transform="rotate(28.5 296.4 613.2)" fill="none" stroke="#1a1a1a" stroke-width="1.14" clip-path="url(#c2982_6142)"/>
<ellipse cx="321.1" cy="627.7" rx="14.4" ry="20.5" transform="rotate(28.5 321.1 627.7)" fill="#fbfbfb" stroke="#1a1a1a" stroke-width="1.9"/>
<ellipse cx="322.9" cy="628.7" rx="14.4" ry="20.5" transform="rotate(28.5 322.9 628.7)" fill="#fbfbfb" stroke="#1a1a1a" stroke-width="1.4249999999999998"/>
<ellipse cx="322.9" cy="628.7" rx="9.8" ry="13.9" transform="rotate(28.5 322.9 628.7)" fill="#fbfbfb" stroke="#1a1a1a" stroke-width="1.9"/>
<clipPath id="c3229_6287"><ellipse cx="322.9" cy="628.7" rx="9.8" ry="13.9" transform="rotate(28.5 322.9 628.7)"/></clipPath>
<ellipse cx="321.1" cy="627.7" rx="9.8" ry="13.9" transform="rotate(28.5 321.1 627.7)" fill="none" stroke="#1a1a1a" stroke-width="1.14" clip-path="url(#c3229_6287)"/>
<ellipse cx="401.1" cy="667.6" rx="14.4" ry="20.5" transform="rotate(28.5 401.1 667.6)" fill="#fbfbfb" stroke="#1a1a1a" stroke-width="1.9"/>
<ellipse cx="402.9" cy="668.6" rx="14.4" ry="20.5" transform="rotate(28.5 402.9 668.6)" fill="#fbfbfb" stroke="#1a1a1a" stroke-width="1.4249999999999998"/>
<ellipse cx="402.9" cy="668.6" rx="9.8" ry="13.9" transform="rotate(28.5 402.9 668.6)" fill="#fbfbfb" stroke="#1a1a1a" stroke-width="1.9"/>
<clipPath id="c4029_6686"><ellipse cx="402.9" cy="668.6" rx="9.8" ry="13.9" transform="rotate(28.5 402.9 668.6)"/></clipPath>
<ellipse cx="401.1" cy="667.6" rx="9.8" ry="13.9" transform="rotate(28.5 401.1 667.6)" fill="none" stroke="#1a1a1a" stroke-width="1.14" clip-path="url(#c4029_6686)"/>
<ellipse cx="426.3" cy="682.7" rx="14.4" ry="20.5" transform="rotate(28.5 426.3 682.7)" fill="#fbfbfb" stroke="#1a1a1a" stroke-width="1.9"/>
<ellipse cx="428.1" cy="683.7" rx="14.4" ry="20.5" transform="rotate(28.5 428.1 683.7)" fill="#fbfbfb" stroke="#1a1a1a" stroke-width="1.4249999999999998"/>
<ellipse cx="428.1" cy="683.7" rx="9.8" ry="13.9" transform="rotate(28.5 428.1 683.7)" fill="#fbfbfb" stroke="#1a1a1a" stroke-width="1.9"/>
<clipPath id="c4281_6837"><ellipse cx="428.1" cy="683.7" rx="9.8" ry="13.9" transform="rotate(28.5 428.1 683.7)"/></clipPath>
<ellipse cx="426.3" cy="682.7" rx="9.8" ry="13.9" transform="rotate(28.5 426.3 682.7)" fill="none" stroke="#1a1a1a" stroke-width="1.14" clip-path="url(#c4281_6837)"/>
<ellipse cx="448.8" cy="695.2" rx="14.4" ry="20.5" transform="rotate(28.5 448.8 695.2)" fill="#fbfbfb" stroke="#1a1a1a" stroke-width="1.9"/>
<ellipse cx="453.2" cy="697.6" rx="14.4" ry="20.5" transform="rotate(28.5 453.2 697.6)" fill="#fbfbfb" stroke="#1a1a1a" stroke-width="1.4249999999999998"/>
<ellipse cx="453.2" cy="697.6" rx="9.8" ry="13.9" transform="rotate(28.5 453.2 697.6)" fill="#fbfbfb" stroke="#1a1a1a" stroke-width="1.9"/>
<clipPath id="c4532_6976"><ellipse cx="453.2" cy="697.6" rx="9.8" ry="13.9" transform="rotate(28.5 453.2 697.6)"/></clipPath>
<ellipse cx="448.8" cy="695.2" rx="9.8" ry="13.9" transform="rotate(28.5 448.8 695.2)" fill="none" stroke="#1a1a1a" stroke-width="1.14" clip-path="url(#c4532_6976)"/>
<line x1="303.4" y1="560.8" x2="281.8" y2="584.0" stroke="#1a1a1a" stroke-width="1.0" stroke-linecap="butt"/>
<line x1="329.8" y1="583.1" x2="312.7" y2="596.4" stroke="#1a1a1a" stroke-width="1.0" stroke-linecap="butt"/>
<line x1="359.2" y1="603.2" x2="339.0" y2="618.1" stroke="#1a1a1a" stroke-width="1.0" stroke-linecap="butt"/>
<line x1="431.3" y1="638.2" x2="408.7" y2="658.3" stroke="#1a1a1a" stroke-width="1.0" stroke-linecap="butt"/>
<line x1="453.6" y1="658.3" x2="431.9" y2="680.0" stroke="#1a1a1a" stroke-width="1.0" stroke-linecap="butt"/>
<line x1="492.2" y1="663.0" x2="456.7" y2="700.1" stroke="#1a1a1a" stroke-width="1.0" stroke-linecap="butt"/>
<rect x="116" y="467.3" width="127.9" height="102.8" fill="none" stroke="#4a4a4a" stroke-width="1.0"/>
<path d="M122.1,513.9 L214.5,564.0 A9.0,13.2 28.5 0 0 227.1,540.8 L134.7,490.7 A9.0,13.2 28.5 0 0 122.1,513.9 Z" fill="#fbfbfb" stroke="#1a1a1a" stroke-width="1.8" stroke-linejoin="round"/>
<ellipse cx="220.8" cy="552.4" rx="9.0" ry="13.2" transform="rotate(28.5 220.8 552.4)" fill="#fbfbfb" stroke="#1a1a1a" stroke-width="1.0"/>
<ellipse cx="215.8" cy="538.2" rx="4.4" ry="2.4" transform="rotate(-8.0 215.8 538.2)" fill="#fbfbfb" stroke="#1a1a1a" stroke-width="1.0"/>
<line x1="223.3" y1="552.0" x2="242.9" y2="563.3" stroke="#1a1a1a" stroke-width="1.0" stroke-linecap="butt"/>
<line x1="190.6" y1="491.7" x2="173.5" y2="508.5" stroke="#1a1a1a" stroke-width="1.0" stroke-linecap="butt"/>
<path d="M215.8,572.9 L224.6,572.9 C223.5,598 210,628 187.6,644.3 C205,628 213.5,600 215.8,572.9 Z" fill="#111" stroke="#1a1a1a" stroke-width="0.5" stroke-linejoin="round" />
<path d="M97.9,662.5 L107.3,667.7 A11.4,20.4 29.0 0 0 127.1,631.9 L117.7,626.7 A11.4,20.4 29.0 0 0 97.9,662.5 Z" fill="#fbfbfb" stroke="#1a1a1a" stroke-width="1.7" stroke-linejoin="round"/>
<ellipse cx="117.2" cy="649.8" rx="11.4" ry="20.4" transform="rotate(29.0 117.2 649.8)" fill="#fbfbfb" stroke="#1a1a1a" stroke-width="1.7"/>
<path d="M115.1,663.4 L206.9,709.0 A9.0,13.3 26.4 0 0 218.7,685.2 L126.9,639.6 A9.0,13.3 26.4 0 0 115.1,663.4 Z" fill="#fbfbfb" stroke="#1a1a1a" stroke-width="1.8" stroke-linejoin="round"/>
<ellipse cx="212.8" cy="697.1" rx="9.0" ry="13.3" transform="rotate(26.4 212.8 697.1)" fill="#fbfbfb" stroke="#1a1a1a" stroke-width="1.0"/>
<ellipse cx="205.7" cy="685.3" rx="4.4" ry="2.4" transform="rotate(-8.0 205.7 685.3)" fill="#fbfbfb" stroke="#1a1a1a" stroke-width="1.0"/>
<line x1="213.3" y1="697.8" x2="235.9" y2="709.2" stroke="#1a1a1a" stroke-width="1.0" stroke-linecap="butt"/>
<line x1="149.9" y1="611.1" x2="131.5" y2="629.2" stroke="#1a1a1a" stroke-width="1.0" stroke-linecap="butt"/>
<ellipse cx="247.2" cy="717.0" rx="15.2" ry="22.8" transform="rotate(28.5 247.2 717.0)" fill="#fbfbfb" stroke="#1a1a1a" stroke-width="1.9"/>
<ellipse cx="249.0" cy="718.0" rx="15.2" ry="22.8" transform="rotate(28.5 249.0 718.0)" fill="#fbfbfb" stroke="#1a1a1a" stroke-width="1.4249999999999998"/>
<ellipse cx="249.0" cy="718.0" rx="10.0" ry="15.0" transform="rotate(28.5 249.0 718.0)" fill="#fbfbfb" stroke="#1a1a1a" stroke-width="1.9"/>
<clipPath id="c2490_7180"><ellipse cx="249.0" cy="718.0" rx="10.0" ry="15.0" transform="rotate(28.5 249.0 718.0)"/></clipPath>
<ellipse cx="247.2" cy="717.0" rx="10.0" ry="15.0" transform="rotate(28.5 247.2 717.0)" fill="none" stroke="#1a1a1a" stroke-width="1.14" clip-path="url(#c2490_7180)"/>
<ellipse cx="279.4" cy="735.8" rx="15.2" ry="22.8" transform="rotate(28.5 279.4 735.8)" fill="#fbfbfb" stroke="#1a1a1a" stroke-width="1.9"/>
<ellipse cx="281.2" cy="736.8" rx="15.2" ry="22.8" transform="rotate(28.5 281.2 736.8)" fill="#fbfbfb" stroke="#1a1a1a" stroke-width="1.4249999999999998"/>
<ellipse cx="281.2" cy="736.8" rx="10.0" ry="15.0" transform="rotate(28.5 281.2 736.8)" fill="#fbfbfb" stroke="#1a1a1a" stroke-width="1.9"/>
<clipPath id="c2812_7368"><ellipse cx="281.2" cy="736.8" rx="10.0" ry="15.0" transform="rotate(28.5 281.2 736.8)"/></clipPath>
<ellipse cx="279.4" cy="735.8" rx="10.0" ry="15.0" transform="rotate(28.5 279.4 735.8)" fill="none" stroke="#1a1a1a" stroke-width="1.14" clip-path="url(#c2812_7368)"/>
<line x1="263.6" y1="681.5" x2="257.3" y2="695.3" stroke="#1a1a1a" stroke-width="1.0" stroke-linecap="butt"/>
<line x1="296.7" y1="699.1" x2="290.0" y2="712.9" stroke="#1a1a1a" stroke-width="1.0" stroke-linecap="butt"/>
<line x1="281.5" y1="734.3" x2="296.6" y2="743.1" stroke="#1a1a1a" stroke-width="1.0" stroke-linecap="butt"/>
<path d="M298.4,760.6 L317.7,771.1 A10.6,15.2 28.5 0 0 332.3,744.3 L312.9,733.8 A10.6,15.2 28.5 0 0 298.4,760.6 Z" fill="#fbfbfb" stroke="#1a1a1a" stroke-width="1.8" stroke-linejoin="round"/>
<ellipse cx="325.0" cy="757.7" rx="10.6" ry="15.2" transform="rotate(28.5 325.0 757.7)" fill="#fbfbfb" stroke="#1a1a1a" stroke-width="1.8"/>
<ellipse cx="325.4" cy="757.9" rx="7.7" ry="10.9" transform="rotate(28.5 325.4 757.9)" fill="#fbfbfb" stroke="#1a1a1a" stroke-width="1.3"/>
<ellipse cx="325.0" cy="757.7" rx="9.4" ry="13.4" transform="rotate(28.5 325.0 757.7)" fill="none" stroke="#1a1a1a" stroke-width="0.7"/>
<line x1="338.1" y1="726.7" x2="326.8" y2="743.1" stroke="#1a1a1a" stroke-width="1.0" stroke-linecap="butt"/>
<polyline points="252.2,591.7 252.2,646.3 374.6,712.9 374.6,772.0" fill="none" stroke="#1a1a1a" stroke-width="1.0" stroke-linejoin="round"/>
<polyline points="468.9,706.6 468.9,763.2 380.4,716.7 380.4,772.0" fill="none" stroke="#1a1a1a" stroke-width="1.0" stroke-linejoin="round"/>
<g transform="translate(136.5,744.4) rotate(28.5)">
<path d="M-5,-4 L-2,-6 L3,-6 L5,-4 L5,4 L3,6 L-2,6 L-5,4 Z" fill="#fbfbfb" stroke="#1a1a1a" stroke-width="1.5"/>
<line x1="-2" y1="-6" x2="-2" y2="6" stroke="#1a1a1a" stroke-width="0.9"/>
<rect x="5" y="-3.4" width="15" height="6.8" rx="1" fill="#777" stroke="#1a1a1a" stroke-width="1.4"/>
<line x1="9" y1="-3.4" x2="9" y2="3.4" stroke="#1a1a1a" stroke-width="1.2"/>
<line x1="12" y1="-3.4" x2="12" y2="3.4" stroke="#1a1a1a" stroke-width="1.2"/>
<line x1="15" y1="-3.4" x2="15" y2="3.4" stroke="#1a1a1a" stroke-width="1.2"/>
<line x1="18" y1="-3.4" x2="18" y2="3.4" stroke="#1a1a1a" stroke-width="1.2"/>
</g>
<ellipse cx="161.6" cy="758.2" rx="3.2" ry="4.3" transform="rotate(28.5 161.6 758.2)" fill="none" stroke="#1a1a1a" stroke-width="2.0"/>
<line x1="166.6" y1="762.7" x2="184.2" y2="771.5" stroke="#1a1a1a" stroke-width="1.0" stroke-linecap="butt"/>
<ellipse cx="196.0" cy="762.3" rx="12.0" ry="19.2" transform="rotate(28.5 196.0 762.3)" fill="#fbfbfb" stroke="#1a1a1a" stroke-width="1.8"/>
<ellipse cx="197.8" cy="763.3" rx="12.0" ry="19.2" transform="rotate(28.5 197.8 763.3)" fill="#fbfbfb" stroke="#1a1a1a" stroke-width="1.0"/>
<path d="M202.5,755.8 L243.4,777.9 C253,784 249,797 233.2,796.7 L192.3,774.6 Z" fill="#fbfbfb" stroke="none" stroke-width="0" stroke-linejoin="round" />
<line x1="202.5" y1="755.8" x2="243.4" y2="777.9" stroke="#1a1a1a" stroke-width="1.8" stroke-linecap="butt"/>
<line x1="192.3" y1="774.6" x2="233.2" y2="796.7" stroke="#1a1a1a" stroke-width="1.8" stroke-linecap="butt"/>
<path d="M243.4,777.9 C253,784 249,797 233.2,796.7" fill="none" stroke="#1a1a1a" stroke-width="1.8" stroke-linejoin="round" />
<path d="M240.5,776.6 C234,781 230,789 231.2,795.6" fill="none" stroke="#1a1a1a" stroke-width="1.0" stroke-linejoin="round" />
<ellipse cx="191.0" cy="751.0" rx="1.2" ry="1.2" transform="rotate(0.0 191.0 751.0)" fill="none" stroke="#1a1a1a" stroke-width="0.9"/>
<ellipse cx="189.5" cy="773.5" rx="1.2" ry="1.2" transform="rotate(0.0 189.5 773.5)" fill="none" stroke="#1a1a1a" stroke-width="0.9"/>
<polyline points="244.6,790.4 316.2,826.9 316.2,776.6 336.4,786.6" fill="none" stroke="#1a1a1a" stroke-width="1.0" stroke-linejoin="round"/>
<line x1="121.4" y1="776.6" x2="133.9" y2="751.4" stroke="#1a1a1a" stroke-width="1.0" stroke-linecap="butt"/>
<line x1="150.3" y1="790.4" x2="160.3" y2="764.0" stroke="#1a1a1a" stroke-width="1.0" stroke-linecap="butt"/>
<line x1="182.5" y1="810.5" x2="191.8" y2="777.8" stroke="#1a1a1a" stroke-width="1.0" stroke-linecap="butt"/>
<g transform="translate(264.6,860.6) rotate(27) scale(1.0)">
<rect x="14.5" y="-4.6" width="10.5" height="9.2" rx="1" fill="#666" stroke="#1a1a1a" stroke-width="1.3"/>
<line x1="16.5" y1="-4.6" x2="16.5" y2="4.6" stroke="#1a1a1a" stroke-width="1.3"/>
<line x1="19.1" y1="-4.6" x2="19.1" y2="4.6" stroke="#1a1a1a" stroke-width="1.3"/>
<line x1="21.7" y1="-4.6" x2="21.7" y2="4.6" stroke="#1a1a1a" stroke-width="1.3"/>
<line x1="24.3" y1="-4.6" x2="24.3" y2="4.6" stroke="#1a1a1a" stroke-width="1.3"/>
<path d="M6.5,-5.6 L10,-6.6 L15,-6.2 L15,6.2 L10,6.6 L6.5,5.6 Z" fill="#fbfbfb" stroke="#1a1a1a" stroke-width="1.5" stroke-linejoin="round"/>
<line x1="7" y1="-2.2" x2="15" y2="-2.4" stroke="#1a1a1a" stroke-width="0.9"/><line x1="7" y1="2.4" x2="15" y2="2.6" stroke="#1a1a1a" stroke-width="0.9"/>
<rect x="2" y="-3.6" width="5" height="7.2" fill="#fbfbfb" stroke="#1a1a1a" stroke-width="1.3"/>
<ellipse cx="0" cy="0" rx="4.4" ry="4.8" fill="#fbfbfb" stroke="#1a1a1a" stroke-width="1.6"/>
</g>
<line x1="266.0" y1="842.0" x2="266.0" y2="856.0" stroke="#1a1a1a" stroke-width="1.0" stroke-linecap="butt"/>
<polyline points="291.1,877.2 315.0,891.0 315.0,900.0" fill="none" stroke="#1a1a1a" stroke-width="1.0" stroke-linejoin="round"/>
<line x1="314.7" y1="890.4" x2="297.7" y2="939.4" stroke="#1a1a1a" stroke-width="1.0" stroke-linecap="butt"/>
<line x1="237.0" y1="877.9" x2="248.4" y2="899.0" stroke="#1a1a1a" stroke-width="1.0" stroke-linecap="butt"/>
<path d="M238.8,927.3 L258.1,937.8 A9.7,13.8 28.5 0 0 271.3,913.6 L252.0,903.1 A9.7,13.8 28.5 0 0 238.8,927.3 Z" fill="#fbfbfb" stroke="#1a1a1a" stroke-width="1.8" stroke-linejoin="round"/>
<ellipse cx="264.7" cy="925.7" rx="9.7" ry="13.8" transform="rotate(28.5 264.7 925.7)" fill="#fbfbfb" stroke="#1a1a1a" stroke-width="1.8"/>
<ellipse cx="265.1" cy="925.9" rx="7.0" ry="9.9" transform="rotate(28.5 265.1 925.9)" fill="#fbfbfb" stroke="#1a1a1a" stroke-width="1.3"/>
<ellipse cx="264.7" cy="925.7" rx="8.5" ry="12.1" transform="rotate(28.5 264.7 925.7)" fill="none" stroke="#1a1a1a" stroke-width="0.7"/>
<line x1="270.0" y1="929.8" x2="284.9" y2="935.1" stroke="#1a1a1a" stroke-width="1.0" stroke-linecap="butt"/>
<polyline points="230.8,906.6 230.8,963.0 322.5,1011.8" fill="none" stroke="#1a1a1a" stroke-width="1.0" stroke-linejoin="round"/>
<path d="M353.0,772.3 L406.2,773.4 L422.1,784.0 L451.9,800.4 L395.5,799.4 L380.6,813.8 L326.4,973.4 L326.4,978.7 L293.4,961.7 L286.0,956.4 L282.8,947.9 L282.8,941.5 L338.1,786.2 L343.4,776.6 Z" fill="#fbfbfb" stroke="#1a1a1a" stroke-width="1.9" stroke-linejoin="round" />
<polyline points="288.1,955.3 287.0,942.6 341.3,789.4 347.0,779.8 355.1,776.6 403.0,777.2" fill="none" stroke="#1a1a1a" stroke-width="1.0" stroke-linejoin="round"/>
<polyline points="296.0,960.6 291.3,954.3 291.3,944.7 344.9,792.6 350.9,784.0 357.2,781.9 414.7,782.3" fill="none" stroke="#1a1a1a" stroke-width="1.0" stroke-linejoin="round"/>
<line x1="406.2" y1="773.4" x2="418.9" y2="784.0" stroke="#1a1a1a" stroke-width="1.0" stroke-linecap="butt"/>
<path d="M418.9,784.0 Q409.4,788.3 407.2,795.7" fill="none" stroke="#1a1a1a" stroke-width="1.0" stroke-linejoin="round" />
<ellipse cx="364.7" cy="800.0" rx="9.6" ry="13.8" transform="rotate(31.5 364.7 800.0)" fill="#fbfbfb" stroke="#1a1a1a" stroke-width="1.9"/>
<clipPath id="bh1a"><ellipse cx="364.7" cy="800.0" rx="9.6" ry="13.8" transform="rotate(31.5 364.7 800.0)"/></clipPath>
<ellipse cx="361.3" cy="798.2" rx="9.6" ry="13.8" transform="rotate(31.5 361.3 798.2)" fill="none" stroke="#1a1a1a" stroke-width="1.3" clip-path="url(#bh1a)"/>
<ellipse cx="308.9" cy="946.8" rx="5.2" ry="6.4" transform="rotate(28.5 308.9 946.8)" fill="#fbfbfb" stroke="#1a1a1a" stroke-width="1.2"/>
<line x1="349.8" y1="800.0" x2="331.7" y2="842.6" stroke="#1a1a1a" stroke-width="1.0" stroke-linecap="butt"/>
<line x1="331.7" y1="842.6" x2="377.4" y2="822.3" stroke="#1a1a1a" stroke-width="1.0" stroke-linecap="butt"/>
<line x1="331.7" y1="842.6" x2="361.5" y2="858.5" stroke="#1a1a1a" stroke-width="1.0" stroke-linecap="butt"/>
<polygon points="324.3,852.1 363.6,873.4 353.0,886.2 317.9,868.1" fill="#fbfbfb" stroke="none" stroke-width="0" stroke-linejoin="round"/>
<line x1="324.3" y1="852.1" x2="363.6" y2="873.4" stroke="#1a1a1a" stroke-width="1.9" stroke-linecap="butt"/>
<line x1="317.9" y1="868.1" x2="354.0" y2="887.2" stroke="#1a1a1a" stroke-width="1.9" stroke-linecap="butt"/>
<path d="M395.5,799.4 L451.9,800.4 C461.5,802.1 466.8,811.7 462.6,824.5 C460.4,834.0 455.1,839.4 448.7,841.5 L363.6,962.8 C364.7,977.7 353.0,990.4 342.3,988.7 L326.4,978.7 L326.4,973.4 L380.6,813.8 C383.8,805.3 389.1,800.0 395.5,799.4 Z" fill="#fbfbfb" stroke="#1a1a1a" stroke-width="1.9" stroke-linejoin="round" />
<polyline points="333.8,971.3 386.0,819.1 391.3,808.5 397.7,803.2 436.0,803.6" fill="none" stroke="#1a1a1a" stroke-width="1.0" stroke-linejoin="round"/>
<line x1="330.6" y1="980.9" x2="330.6" y2="973.4" stroke="#1a1a1a" stroke-width="1.0" stroke-linecap="butt"/>
<ellipse cx="399.8" cy="816.4" rx="9.0" ry="13.4" transform="rotate(31.5 399.8 816.4)" fill="#fbfbfb" stroke="#1a1a1a" stroke-width="1.9"/>
<clipPath id="fh1a"><ellipse cx="399.8" cy="816.4" rx="9" ry="13.4" transform="rotate(31.5 399.8 816.4)"/></clipPath>
<ellipse cx="396.4" cy="814.6" rx="9" ry="13.4" transform="rotate(31.5 396.4 814.6)" fill="none" stroke="#1a1a1a" stroke-width="1.3" clip-path="url(#fh1a)"/>
<ellipse cx="445.9" cy="821.4" rx="15.2" ry="22.4" transform="rotate(28.5 445.9 821.4)" fill="#fbfbfb" stroke="#1a1a1a" stroke-width="1.9"/>
<ellipse cx="447.7" cy="822.3" rx="15.2" ry="22.4" transform="rotate(28.5 447.7 822.3)" fill="#fbfbfb" stroke="#1a1a1a" stroke-width="1.3"/>
<ellipse cx="448.3" cy="822.5" rx="9.6" ry="14.6" transform="rotate(28.5 448.3 822.5)" fill="#fbfbfb" stroke="#1a1a1a" stroke-width="2.4"/>
<ellipse cx="346.3" cy="969.2" rx="13.8" ry="20.4" transform="rotate(32.5 346.3 969.2)" fill="#fbfbfb" stroke="#1a1a1a" stroke-width="1.9"/>
<ellipse cx="348.3" cy="970.2" rx="13.8" ry="20.4" transform="rotate(32.5 348.3 970.2)" fill="#fbfbfb" stroke="#1a1a1a" stroke-width="1.3"/>
<ellipse cx="348.9" cy="970.4" rx="8.6" ry="12.8" transform="rotate(32.5 348.9 970.4)" fill="#fbfbfb" stroke="#1a1a1a" stroke-width="2.2"/>
<line x1="333.8" y1="760.6" x2="363.6" y2="801.0" stroke="#1a1a1a" stroke-width="1.0" stroke-linecap="butt"/>
<polyline points="270.0,804.3 315.7,826.6 316.8,776.6 336.0,785.1" fill="none" stroke="#1a1a1a" stroke-width="1.0" stroke-linejoin="round"/>
<line x1="351.9" y1="971.3" x2="378.5" y2="985.1" stroke="#1a1a1a" stroke-width="1.0" stroke-linecap="butt"/>
<line x1="425.3" y1="875.5" x2="455.1" y2="913.8" stroke="#1a1a1a" stroke-width="1.0" stroke-linecap="butt"/>
<line x1="414.7" y1="974.5" x2="406.2" y2="986.2" stroke="#1a1a1a" stroke-width="1.0" stroke-linecap="butt"/>
<path d="M380.3,1002.6 L399.6,1013.1 A9.7,13.8 28.5 0 0 412.8,988.9 L393.5,978.4 A9.7,13.8 28.5 0 0 380.3,1002.6 Z" fill="#fbfbfb" stroke="#1a1a1a" stroke-width="1.8" stroke-linejoin="round"/>
<ellipse cx="406.2" cy="1001.0" rx="9.7" ry="13.8" transform="rotate(28.5 406.2 1001.0)" fill="#fbfbfb" stroke="#1a1a1a" stroke-width="1.8"/>
<ellipse cx="406.6" cy="1001.2" rx="7.0" ry="9.9" transform="rotate(28.5 406.6 1001.2)" fill="#fbfbfb" stroke="#1a1a1a" stroke-width="1.3"/>
<ellipse cx="406.2" cy="1001.0" rx="8.5" ry="12.1" transform="rotate(28.5 406.2 1001.0)" fill="none" stroke="#1a1a1a" stroke-width="0.7"/>
<rect x="16.8" y="1028.4" width="128.3" height="102.9" fill="none" stroke="#4a4a4a" stroke-width="1.0"/>
<path d="M26.8,1075.9 L117.9,1124.9 A7.6,11.2 28.3 0 0 128.5,1105.1 L37.4,1056.1 A7.6,11.2 28.3 0 0 26.8,1075.9 Z" fill="#fbfbfb" stroke="#1a1a1a" stroke-width="1.8" stroke-linejoin="round"/>
<ellipse cx="123.2" cy="1115.0" rx="7.6" ry="11.2" transform="rotate(28.3 123.2 1115.0)" fill="#fbfbfb" stroke="#1a1a1a" stroke-width="1.0"/>
<ellipse cx="118.2" cy="1103.6" rx="4.4" ry="2.4" transform="rotate(-8.0 118.2 1103.6)" fill="#fbfbfb" stroke="#1a1a1a" stroke-width="1.0"/>
<line x1="123.2" y1="1115.7" x2="140.8" y2="1125.0" stroke="#1a1a1a" stroke-width="1.0" stroke-linecap="butt"/>
<line x1="90.5" y1="1057.8" x2="76.7" y2="1074.9" stroke="#1a1a1a" stroke-width="1.0" stroke-linecap="butt"/>
<path d="M145.8,1054.1 C162,1053.5 176,1048 186.1,1039 C177,1051 163,1059 145.8,1061.3 Z" fill="#111" stroke="#1a1a1a" stroke-width="0.5" stroke-linejoin="round" />
<path d="M146.2,1017.6 L152.7,1021.1 A8.2,16.4 28.3 0 0 168.3,992.3 L161.8,988.8 A8.2,16.4 28.3 0 0 146.2,1017.6 Z" fill="#fbfbfb" stroke="#1a1a1a" stroke-width="1.7" stroke-linejoin="round"/>
<ellipse cx="160.5" cy="1006.7" rx="8.2" ry="16.4" transform="rotate(28.3 160.5 1006.7)" fill="#fbfbfb" stroke="#1a1a1a" stroke-width="1.7"/>
<path d="M158.7,1019.6 L248.9,1063.6 A8.3,12.2 26.0 0 0 259.5,1041.6 L169.3,997.6 A8.3,12.2 26.0 0 0 158.7,1019.6 Z" fill="#fbfbfb" stroke="#1a1a1a" stroke-width="1.8" stroke-linejoin="round"/>
<ellipse cx="254.2" cy="1052.6" rx="8.3" ry="12.2" transform="rotate(26.0 254.2 1052.6)" fill="#fbfbfb" stroke="#1a1a1a" stroke-width="1.0"/>
<ellipse cx="247.9" cy="1043.2" rx="4.4" ry="2.4" transform="rotate(-8.0 247.9 1043.2)" fill="#fbfbfb" stroke="#1a1a1a" stroke-width="1.0"/>
<line x1="255.9" y1="1053.6" x2="269.5" y2="1061.2" stroke="#1a1a1a" stroke-width="1.0" stroke-linecap="butt"/>
<line x1="182.8" y1="968.3" x2="166.4" y2="990.9" stroke="#1a1a1a" stroke-width="1.0" stroke-linecap="butt"/>
<polygon points="210.4,1128.8 269.2,1098.8 341.0,1057.0 455.9,1118.4 446.7,1126.2 331.9,1196.7" fill="#fbfbfb" stroke="#1a1a1a" stroke-width="1.9" stroke-linejoin="round"/>
<polyline points="210.4,1128.8 211.0,1132.7 331.9,1198.5 448.0,1126.7" fill="none" stroke="#1a1a1a" stroke-width="1.2" stroke-linejoin="round"/>
<polyline points="220.4,1127.2 330.9,1188.9 445.4,1121.0" fill="none" stroke="#1a1a1a" stroke-width="1.0" stroke-linejoin="round"/>
<line x1="446.7" y1="1126.2" x2="445.4" y2="1121.0" stroke="#1a1a1a" stroke-width="1.0" stroke-linecap="butt"/>
<line x1="454.6" y1="1119.7" x2="448.0" y2="1126.7" stroke="#1a1a1a" stroke-width="1.6" stroke-linecap="butt"/>
<polyline points="249.7,1144.4 308.7,1176.4 375.4,1140.6 419.9,1113.5 417.9,1107.7" fill="none" stroke="#1a1a1a" stroke-width="1.2" stroke-linejoin="round"/>
<line x1="308.7" y1="1176.4" x2="330.9" y2="1188.9" stroke="#1a1a1a" stroke-width="1.0" stroke-linecap="butt"/>
<line x1="249.7" y1="1144.4" x2="279.7" y2="1128.0" stroke="#1a1a1a" stroke-width="1.0" stroke-linecap="butt"/>
<line x1="298.0" y1="1115.4" x2="320.3" y2="1103.8" stroke="#1a1a1a" stroke-width="1.0" stroke-linecap="butt"/>
<polygon points="338.6,1057.4 358.0,1074.8 358.0,1081.0 334.8,1064.8" fill="#fbfbfb" stroke="#1a1a1a" stroke-width="1.7" stroke-linejoin="round"/>
<line x1="358.0" y1="1081.0" x2="340.6" y2="1091.8" stroke="#1a1a1a" stroke-width="1.2" stroke-linecap="butt"/>
<line x1="358.4" y1="1075.2" x2="440.0" y2="1115.8" stroke="#1a1a1a" stroke-width="1.7" stroke-linecap="butt"/>
<polygon points="375.4,1090.7 417.9,1107.7 420.9,1113.1 375.4,1140.6" fill="#fbfbfb" stroke="#1a1a1a" stroke-width="1.5" stroke-linejoin="round"/>
<ellipse cx="277.7" cy="1069.0" rx="11.0" ry="18.4" transform="rotate(28.5 277.7 1069.0)" fill="#fbfbfb" stroke="#1a1a1a" stroke-width="1.8"/>
<path d="M245.8,1143.5 L284.1,1067.5 C288.4,1059.3 297.1,1055.5 306.7,1056.6 L323.6,1061.7 L322.8,1102.3 L279.7,1128.0 L249.7,1145.4 Z" fill="#fbfbfb" stroke="none" stroke-width="0" stroke-linejoin="round" />
<path d="M245.8,1143.5 L284.1,1067.5 C288.4,1059.3 297.1,1055.5 306.7,1056.6 L323.6,1061.7" fill="none" stroke="#1a1a1a" stroke-width="1.9" stroke-linejoin="round" />
<line x1="245.8" y1="1143.5" x2="246.2" y2="1136.7" stroke="#1a1a1a" stroke-width="1.2" stroke-linecap="butt"/>
<polyline points="249.7,1144.4 288.4,1069.4 295.1,1061.3" fill="none" stroke="#1a1a1a" stroke-width="1.0" stroke-linejoin="round"/>
<ellipse cx="299.0" cy="1079.7" rx="8.8" ry="12.8" transform="rotate(28.5 299.0 1079.7)" fill="#fbfbfb" stroke="#1a1a1a" stroke-width="1.6"/>
<line x1="300.3" y1="1080.6" x2="323.2" y2="1092.2" stroke="#1a1a1a" stroke-width="1.0" stroke-linecap="butt"/>
<polyline points="320.3,1096.1 320.3,1100.9 332.8,1106.7 332.8,1100.0" fill="none" stroke="#1a1a1a" stroke-width="1.0" stroke-linejoin="round"/>
<polygon points="279.7,1111.6 325.1,1136.7 316.4,1148.3 279.7,1128.0" fill="#fbfbfb" stroke="#1a1a1a" stroke-width="1.5" stroke-linejoin="round"/>
<polygon points="279.7,1111.6 285.5,1108.1 329.9,1132.5 325.1,1136.7" fill="#fbfbfb" stroke="#1a1a1a" stroke-width="1.2" stroke-linejoin="round"/>
<path d="M303.8,1173.5 L345.4,1098.0 C349.3,1092.2 356.1,1089.3 365.7,1089.3 L375.4,1098.0 L375.4,1140.6 L308.7,1176.9 Z" fill="#fbfbfb" stroke="none" stroke-width="0" stroke-linejoin="round" />
<path d="M303.8,1173.5 L345.4,1098.0 C349.3,1092.2 356.1,1089.3 365.7,1089.3" fill="none" stroke="#1a1a1a" stroke-width="1.9" stroke-linejoin="round" />
<line x1="303.8" y1="1173.5" x2="304.4" y2="1180.2" stroke="#1a1a1a" stroke-width="1.2" stroke-linecap="butt"/>
<polyline points="308.7,1176.4 350.3,1100.3 357.0,1094.2" fill="none" stroke="#1a1a1a" stroke-width="1.0" stroke-linejoin="round"/>
<line x1="308.7" y1="1176.4" x2="375.4" y2="1140.6" stroke="#1a1a1a" stroke-width="1.2" stroke-linecap="butt"/>
<path d="M351.9,1130.1 L366.4,1137.9 A12.1,18.9 28.3 0 0 384.4,1104.6 L369.9,1096.8 A12.1,18.9 28.3 0 0 351.9,1130.1 Z" fill="#fbfbfb" stroke="#1a1a1a" stroke-width="1.9" stroke-linejoin="round"/>
<ellipse cx="375.4" cy="1121.2" rx="12.1" ry="18.9" transform="rotate(28.3 375.4 1121.2)" fill="#fbfbfb" stroke="#1a1a1a" stroke-width="1.9"/>
<ellipse cx="375.7" cy="1121.4" rx="7.8" ry="11.8" transform="rotate(28.5 375.7 1121.4)" fill="#fbfbfb" stroke="#1a1a1a" stroke-width="1.8"/>
<ellipse cx="368.6" cy="1101.5" rx="2.8" ry="1.5" transform="rotate(0.0 368.6 1101.5)" fill="#fbfbfb" stroke="#1a1a1a" stroke-width="1.0"/>
<line x1="329.9" y1="1017.8" x2="329.9" y2="1098.0" stroke="#1a1a1a" stroke-width="0.9" stroke-linecap="butt"/>
<line x1="322.5" y1="1011.8" x2="322.5" y2="1098.0" stroke="#1a1a1a" stroke-width="0.9" stroke-linecap="butt"/>
<line x1="368.4" y1="1058.3" x2="368.4" y2="1100.5" stroke="#1a1a1a" stroke-width="1.0" stroke-linecap="butt"/>
<polyline points="369.7,1140.5 369.7,1158.8 454.6,1204.5 454.6,1216.0" fill="none" stroke="#1a1a1a" stroke-width="1.0" stroke-linejoin="round"/>
<polyline points="329.9,1017.8 415.4,1063.5 415.4,1002.0" fill="none" stroke="#1a1a1a" stroke-width="1.0" stroke-linejoin="round"/>
<polyline points="368.4,1058.3 454.6,1104.0 454.6,1088.3" fill="none" stroke="#1a1a1a" stroke-width="1.0" stroke-linejoin="round"/>
<polygon points="447.3,1025.6 451.0,1023.4 458.2,1023.4 461.9,1025.6 461.9,1033.3 458.2,1034.8 451.0,1034.8 447.3,1033.3" fill="#fbfbfb" stroke="#1a1a1a" stroke-width="1.3" stroke-linejoin="round"/>
<line x1="451.0" y1="1026.2" x2="451.0" y2="1034.8" stroke="#1a1a1a" stroke-width="0.9" stroke-linecap="butt"/>
<line x1="458.2" y1="1026.2" x2="458.2" y2="1034.8" stroke="#1a1a1a" stroke-width="0.9" stroke-linecap="butt"/>
<path d="M447.3,1025.8 Q454.6,1027.6 461.90000000000003,1025.8" fill="none" stroke="#1a1a1a" stroke-width="0.9" stroke-linejoin="round" />
<polyline points="450.9,1034.8 450.9,1088.3 458.3,1088.3 458.3,1034.8" fill="#fbfbfb" stroke="#1a1a1a" stroke-width="1.3" stroke-linejoin="round"/>
<line x1="450.9" y1="1086.7" x2="458.3" y2="1085.9" stroke="#1a1a1a" stroke-width="1.2" stroke-linecap="butt"/>
<line x1="450.9" y1="1084.2" x2="458.3" y2="1083.4" stroke="#1a1a1a" stroke-width="1.2" stroke-linecap="butt"/>
<line x1="450.9" y1="1081.7" x2="458.3" y2="1080.9" stroke="#1a1a1a" stroke-width="1.2" stroke-linecap="butt"/>
<line x1="450.9" y1="1079.2" x2="458.3" y2="1078.4" stroke="#1a1a1a" stroke-width="1.2" stroke-linecap="butt"/>
<line x1="463.0" y1="1028.7" x2="485.8" y2="1026.8" stroke="#1a1a1a" stroke-width="1.0" stroke-linecap="butt"/>
<polygon points="445.1,1241.0 449.4,1236.9 458.2,1236.9 462.6,1241.0 462.6,1246.2 458.2,1250.3 449.4,1250.3 445.1,1246.2" fill="#fbfbfb" stroke="#1a1a1a" stroke-width="1.5" stroke-linejoin="round"/>
<polyline points="445.1,1241.0 449.4,1245.1 458.2,1245.1 462.6,1241.0" fill="none" stroke="#1a1a1a" stroke-width="1.2000000000000002" stroke-linejoin="round"/>
<line x1="449.4" y1="1245.1" x2="449.4" y2="1250.3" stroke="#1a1a1a" stroke-width="1.2000000000000002" stroke-linecap="butt"/>
<line x1="458.2" y1="1245.1" x2="458.2" y2="1250.3" stroke="#1a1a1a" stroke-width="1.2000000000000002" stroke-linecap="butt"/>
<ellipse cx="453.8" cy="1241.0" rx="5.2" ry="2.5" transform="rotate(0.0 453.8 1241.0)" fill="#fbfbfb" stroke="#1a1a1a" stroke-width="2.0999999999999996"/>
<polygon points="445.1,1224.6 449.4,1220.5 458.2,1220.5 462.6,1224.6 462.6,1229.8 458.2,1233.9 449.4,1233.9 445.1,1229.8" fill="#fbfbfb" stroke="#1a1a1a" stroke-width="1.5" stroke-linejoin="round"/>
<polyline points="445.1,1224.6 449.4,1228.7 458.2,1228.7 462.6,1224.6" fill="none" stroke="#1a1a1a" stroke-width="1.2000000000000002" stroke-linejoin="round"/>
<line x1="449.4" y1="1228.7" x2="449.4" y2="1233.9" stroke="#1a1a1a" stroke-width="1.2000000000000002" stroke-linecap="butt"/>
<line x1="458.2" y1="1228.7" x2="458.2" y2="1233.9" stroke="#1a1a1a" stroke-width="1.2000000000000002" stroke-linecap="butt"/>
<ellipse cx="453.8" cy="1224.6" rx="5.2" ry="2.5" transform="rotate(0.0 453.8 1224.6)" fill="#fbfbfb" stroke="#1a1a1a" stroke-width="2.0999999999999996"/>
<line x1="492.4" y1="1229.7" x2="463.0" y2="1222.3" stroke="#1a1a1a" stroke-width="1.0" stroke-linecap="butt"/>
<line x1="492.4" y1="1229.7" x2="463.0" y2="1238.9" stroke="#1a1a1a" stroke-width="1.0" stroke-linecap="butt"/>
<line x1="269.2" y1="1170.6" x2="247.0" y2="1205.8" stroke="#1a1a1a" stroke-width="1.0" stroke-linecap="butt"/>
<rect x="556.4" y="998.5" width="289.4" height="334.1" fill="#fbfbfb" stroke="#3a3a3a" stroke-width="1.1"/>
<path d="M550.4,948.1 C572,958 588,975 594.5,992.9 L574.5,992.9 C571,975 562,958 550.4,948.1 Z" fill="#111" stroke="#1a1a1a" stroke-width="0.5" stroke-linejoin="round" />
<path d="M680.0,1078.3 L733.2,1079.4 L749.1,1090.0 L778.9,1106.4 L722.5,1105.4 L707.6,1119.8 L653.4,1279.4 L653.4,1284.7 L620.4,1267.7 L613.0,1262.4 L609.8,1253.9 L609.8,1247.5 L665.1,1092.2 L670.4,1082.6 Z" fill="#fbfbfb" stroke="#1a1a1a" stroke-width="1.9" stroke-linejoin="round" />
<polyline points="615.1,1261.3 614.0,1248.6 668.3,1095.4 674.0,1085.8 682.1,1082.6 730.0,1083.2" fill="none" stroke="#1a1a1a" stroke-width="1.0" stroke-linejoin="round"/>
<polyline points="623.0,1266.6 618.3,1260.3 618.3,1250.7 671.9,1098.6 677.9,1090.0 684.2,1087.9 741.7,1088.3" fill="none" stroke="#1a1a1a" stroke-width="1.0" stroke-linejoin="round"/>
<line x1="733.2" y1="1079.4" x2="745.9" y2="1090.0" stroke="#1a1a1a" stroke-width="1.0" stroke-linecap="butt"/>
<path d="M745.9,1090.0 Q736.4,1094.3 734.2,1101.7" fill="none" stroke="#1a1a1a" stroke-width="1.0" stroke-linejoin="round" />
<ellipse cx="691.7" cy="1106.0" rx="9.6" ry="13.8" transform="rotate(31.5 691.7 1106.0)" fill="#fbfbfb" stroke="#1a1a1a" stroke-width="1.9"/>
<clipPath id="bh1b"><ellipse cx="691.7" cy="1106.0" rx="9.6" ry="13.8" transform="rotate(31.5 691.7 1106.0)"/></clipPath>
<ellipse cx="688.3" cy="1104.2" rx="9.6" ry="13.8" transform="rotate(31.5 688.3 1104.2)" fill="none" stroke="#1a1a1a" stroke-width="1.3" clip-path="url(#bh1b)"/>
<ellipse cx="635.9" cy="1252.8" rx="5.2" ry="6.4" transform="rotate(28.5 635.9 1252.8)" fill="#fbfbfb" stroke="#1a1a1a" stroke-width="1.2"/>
<line x1="676.8" y1="1106.0" x2="658.7" y2="1148.6" stroke="#1a1a1a" stroke-width="1.0" stroke-linecap="butt"/>
<line x1="658.7" y1="1148.6" x2="704.4" y2="1128.3" stroke="#1a1a1a" stroke-width="1.0" stroke-linecap="butt"/>
<line x1="658.7" y1="1148.6" x2="688.5" y2="1164.5" stroke="#1a1a1a" stroke-width="1.0" stroke-linecap="butt"/>
<polygon points="651.3,1158.1 690.6,1179.4 680.0,1192.2 644.9,1174.1" fill="#fbfbfb" stroke="none" stroke-width="0" stroke-linejoin="round"/>
<line x1="651.3" y1="1158.1" x2="690.6" y2="1179.4" stroke="#1a1a1a" stroke-width="1.9" stroke-linecap="butt"/>
<line x1="644.9" y1="1174.1" x2="681.0" y2="1193.2" stroke="#1a1a1a" stroke-width="1.9" stroke-linecap="butt"/>
<path d="M722.5,1105.4 L778.9,1106.4 C788.5,1108.1 793.8,1117.7 789.6,1130.5 C787.4,1140.0 782.1,1145.4 775.7,1147.5 L690.6,1268.8 C691.7,1283.7 680.0,1296.4 669.3,1294.7 L653.4,1284.7 L653.4,1279.4 L707.6,1119.8 C710.8,1111.3 716.1,1106.0 722.5,1105.4 Z" fill="#fbfbfb" stroke="#1a1a1a" stroke-width="1.9" stroke-linejoin="round" />
<polyline points="660.8,1277.3 713.0,1125.1 718.3,1114.5 724.7,1109.2 763.0,1109.6" fill="none" stroke="#1a1a1a" stroke-width="1.0" stroke-linejoin="round"/>
<line x1="657.6" y1="1286.9" x2="657.6" y2="1279.4" stroke="#1a1a1a" stroke-width="1.0" stroke-linecap="butt"/>
<ellipse cx="726.8" cy="1122.4" rx="9.0" ry="13.4" transform="rotate(31.5 726.8 1122.4)" fill="#fbfbfb" stroke="#1a1a1a" stroke-width="1.9"/>
<clipPath id="fh1b"><ellipse cx="726.8" cy="1122.4" rx="9" ry="13.4" transform="rotate(31.5 726.8 1122.4)"/></clipPath>
<ellipse cx="723.4" cy="1120.6" rx="9" ry="13.4" transform="rotate(31.5 723.4 1120.6)" fill="none" stroke="#1a1a1a" stroke-width="1.3" clip-path="url(#fh1b)"/>
<ellipse cx="772.9" cy="1127.4" rx="15.2" ry="22.4" transform="rotate(28.5 772.9 1127.4)" fill="#fbfbfb" stroke="#1a1a1a" stroke-width="1.9"/>
<ellipse cx="774.7" cy="1128.3" rx="15.2" ry="22.4" transform="rotate(28.5 774.7 1128.3)" fill="#fbfbfb" stroke="#1a1a1a" stroke-width="1.3"/>
<ellipse cx="775.3" cy="1128.5" rx="9.6" ry="14.6" transform="rotate(28.5 775.3 1128.5)" fill="#fbfbfb" stroke="#1a1a1a" stroke-width="2.4"/>
<ellipse cx="673.3" cy="1275.2" rx="13.8" ry="20.4" transform="rotate(32.5 673.3 1275.2)" fill="#fbfbfb" stroke="#1a1a1a" stroke-width="1.9"/>
<ellipse cx="675.3" cy="1276.2" rx="13.8" ry="20.4" transform="rotate(32.5 675.3 1276.2)" fill="#fbfbfb" stroke="#1a1a1a" stroke-width="1.3"/>
<ellipse cx="675.9" cy="1276.4" rx="8.6" ry="12.8" transform="rotate(32.5 675.9 1276.4)" fill="#fbfbfb" stroke="#1a1a1a" stroke-width="2.2"/>
<path d="M627.5,1066.7 L645.5,1076.5 A10.3,16.6 28.5 0 0 661.3,1047.3 L643.3,1037.5 A10.3,16.6 28.5 0 0 627.5,1066.7 Z" fill="#fbfbfb" stroke="#1a1a1a" stroke-width="1.8" stroke-linejoin="round"/>
<ellipse cx="653.4" cy="1061.9" rx="10.3" ry="16.6" transform="rotate(28.5 653.4 1061.9)" fill="#fbfbfb" stroke="#1a1a1a" stroke-width="1.8"/>
<ellipse cx="653.8" cy="1062.1" rx="7.6" ry="12.3" transform="rotate(28.5 653.8 1062.1)" fill="#fbfbfb" stroke="#1a1a1a" stroke-width="1.3"/>
<ellipse cx="653.4" cy="1061.9" rx="9.1" ry="14.6" transform="rotate(28.5 653.4 1061.9)" fill="none" stroke="#1a1a1a" stroke-width="0.7"/>
<path d="M800.2,1158.8 L818.2,1168.6 A10.3,16.6 28.5 0 0 834.0,1139.4 L816.0,1129.6 A10.3,16.6 28.5 0 0 800.2,1158.8 Z" fill="#fbfbfb" stroke="#1a1a1a" stroke-width="1.8" stroke-linejoin="round"/>
<ellipse cx="826.1" cy="1154.0" rx="10.3" ry="16.6" transform="rotate(28.5 826.1 1154.0)" fill="#fbfbfb" stroke="#1a1a1a" stroke-width="1.8"/>
<ellipse cx="826.5" cy="1154.2" rx="7.6" ry="12.3" transform="rotate(28.5 826.5 1154.2)" fill="#fbfbfb" stroke="#1a1a1a" stroke-width="1.3"/>
<ellipse cx="826.1" cy="1154.0" rx="9.1" ry="14.6" transform="rotate(28.5 826.1 1154.0)" fill="none" stroke="#1a1a1a" stroke-width="0.7"/>
<path d="M566.7,1234.4 L584.7,1244.2 A10.3,16.6 28.5 0 0 600.5,1215.0 L582.5,1205.2 A10.3,16.6 28.5 0 0 566.7,1234.4 Z" fill="#fbfbfb" stroke="#1a1a1a" stroke-width="1.8" stroke-linejoin="round"/>
<ellipse cx="592.6" cy="1229.6" rx="10.3" ry="16.6" transform="rotate(28.5 592.6 1229.6)" fill="#fbfbfb" stroke="#1a1a1a" stroke-width="1.8"/>
<ellipse cx="593.0" cy="1229.8" rx="7.6" ry="12.3" transform="rotate(28.5 593.0 1229.8)" fill="#fbfbfb" stroke="#1a1a1a" stroke-width="1.3"/>
<ellipse cx="592.6" cy="1229.6" rx="9.1" ry="14.6" transform="rotate(28.5 592.6 1229.6)" fill="none" stroke="#1a1a1a" stroke-width="0.7"/>
<path d="M706.5,1310.1 L724.5,1319.9 A10.3,16.6 28.5 0 0 740.3,1290.7 L722.3,1280.9 A10.3,16.6 28.5 0 0 706.5,1310.1 Z" fill="#fbfbfb" stroke="#1a1a1a" stroke-width="1.8" stroke-linejoin="round"/>
<ellipse cx="732.4" cy="1305.3" rx="10.3" ry="16.6" transform="rotate(28.5 732.4 1305.3)" fill="#fbfbfb" stroke="#1a1a1a" stroke-width="1.8"/>
<ellipse cx="732.8" cy="1305.5" rx="7.6" ry="12.3" transform="rotate(28.5 732.8 1305.5)" fill="#fbfbfb" stroke="#1a1a1a" stroke-width="1.3"/>
<ellipse cx="732.4" cy="1305.3" rx="9.1" ry="14.6" transform="rotate(28.5 732.4 1305.3)" fill="none" stroke="#1a1a1a" stroke-width="0.7"/>
<line x1="659.0" y1="1064.5" x2="692.0" y2="1081.0" stroke="#1a1a1a" stroke-width="1.0" stroke-linecap="butt"/>
<line x1="776.1" y1="1127.7" x2="818.0" y2="1150.0" stroke="#1a1a1a" stroke-width="1.0" stroke-linecap="butt"/>
<line x1="598.0" y1="1232.0" x2="612.0" y2="1239.5" stroke="#1a1a1a" stroke-width="1.0" stroke-linecap="butt"/>
<line x1="676.0" y1="1276.0" x2="723.0" y2="1300.5" stroke="#1a1a1a" stroke-width="1.0" stroke-linecap="butt"/>
<line x1="666.6" y1="1030.7" x2="656.7" y2="1047.1" stroke="#1a1a1a" stroke-width="1.0" stroke-linecap="butt"/>
<line x1="831.0" y1="1110.6" x2="827.7" y2="1134.3" stroke="#1a1a1a" stroke-width="1.0" stroke-linecap="butt"/>
<line x1="578.8" y1="1183.6" x2="578.8" y2="1205.0" stroke="#1a1a1a" stroke-width="1.0" stroke-linecap="butt"/>
<line x1="745.5" y1="1277.3" x2="735.7" y2="1290.5" stroke="#1a1a1a" stroke-width="1.0" stroke-linecap="butt"/>
<line x1="753.1" y1="1183.6" x2="774.1" y2="1195.1" stroke="#1a1a1a" stroke-width="1.0" stroke-linecap="butt"/>
<path d="M481.2,857.0 L499.6,867.1 A10.6,15.2 28.5 0 0 514.2,840.3 L495.7,830.3 A10.6,15.2 28.5 0 0 481.2,857.0 Z" fill="#fbfbfb" stroke="#1a1a1a" stroke-width="1.8" stroke-linejoin="round"/>
<ellipse cx="506.9" cy="853.7" rx="10.6" ry="15.2" transform="rotate(28.5 506.9 853.7)" fill="#fbfbfb" stroke="#1a1a1a" stroke-width="1.8"/>
<ellipse cx="507.3" cy="853.9" rx="7.7" ry="10.9" transform="rotate(28.5 507.3 853.9)" fill="#fbfbfb" stroke="#1a1a1a" stroke-width="1.3"/>
<ellipse cx="506.9" cy="853.7" rx="9.4" ry="13.4" transform="rotate(28.5 506.9 853.7)" fill="none" stroke="#1a1a1a" stroke-width="0.7"/>
<ellipse cx="530.2" cy="866.6" rx="15.2" ry="22.0" transform="rotate(28.5 530.2 866.6)" fill="#fbfbfb" stroke="#1a1a1a" stroke-width="1.9"/>
<ellipse cx="532.0" cy="867.6" rx="15.2" ry="22.0" transform="rotate(28.5 532.0 867.6)" fill="#fbfbfb" stroke="#1a1a1a" stroke-width="1.4249999999999998"/>
<ellipse cx="532.0" cy="867.6" rx="10.0" ry="14.5" transform="rotate(28.5 532.0 867.6)" fill="#fbfbfb" stroke="#1a1a1a" stroke-width="1.9"/>
<clipPath id="c5320_8676"><ellipse cx="532.0" cy="867.6" rx="10.0" ry="14.5" transform="rotate(28.5 532.0 867.6)"/></clipPath>
<ellipse cx="530.2" cy="866.6" rx="10.0" ry="14.5" transform="rotate(28.5 530.2 866.6)" fill="none" stroke="#1a1a1a" stroke-width="1.14" clip-path="url(#c5320_8676)"/>
<ellipse cx="561.1" cy="884.2" rx="15.2" ry="22.0" transform="rotate(28.5 561.1 884.2)" fill="#fbfbfb" stroke="#1a1a1a" stroke-width="1.9"/>
<ellipse cx="562.9" cy="885.2" rx="15.2" ry="22.0" transform="rotate(28.5 562.9 885.2)" fill="#fbfbfb" stroke="#1a1a1a" stroke-width="1.4249999999999998"/>
<ellipse cx="562.9" cy="885.2" rx="10.0" ry="14.5" transform="rotate(28.5 562.9 885.2)" fill="#fbfbfb" stroke="#1a1a1a" stroke-width="1.9"/>
<clipPath id="c5629_8852"><ellipse cx="562.9" cy="885.2" rx="10.0" ry="14.5" transform="rotate(28.5 562.9 885.2)"/></clipPath>
<ellipse cx="561.1" cy="884.2" rx="10.0" ry="14.5" transform="rotate(28.5 561.1 884.2)" fill="none" stroke="#1a1a1a" stroke-width="1.14" clip-path="url(#c5629_8852)"/>
<line x1="534.5" y1="813.5" x2="508.1" y2="838.6" stroke="#1a1a1a" stroke-width="1.0" stroke-linecap="butt"/>
<line x1="573.5" y1="826.1" x2="548.4" y2="850.0" stroke="#1a1a1a" stroke-width="1.0" stroke-linecap="butt"/>
<line x1="602.4" y1="847.4" x2="579.8" y2="868.8" stroke="#1a1a1a" stroke-width="1.0" stroke-linecap="butt"/>
<line x1="447.8" y1="823.6" x2="477.9" y2="839.9" stroke="#1a1a1a" stroke-width="1.0" stroke-linecap="butt"/>
<line x1="374.6" y1="772.0" x2="374.6" y2="790.0" stroke="#1a1a1a" stroke-width="1.0" stroke-linecap="butt"/>
<line x1="380.4" y1="772.0" x2="380.4" y2="808.0" stroke="#1a1a1a" stroke-width="1.0" stroke-linecap="butt"/>
<line x1="508.0" y1="679.4" x2="514.0" y2="679.4" stroke="#1a1a1a" stroke-width="1.4" stroke-linecap="butt"/>
<line x1="519.0" y1="680.4" x2="529.5" y2="680.4" stroke="#1a1a1a" stroke-width="1.0" stroke-dasharray="1.5 1.5" stroke-linecap="butt"/>
<g style="mix-blend-mode:multiply">
<path d="M307,566 L307,472 Q307,459 320,456.5 Q517.5,393 715,457.5 Q728,460 728,472 L728,566" fill="none" stroke="#a9a9a9" stroke-width="4.2" stroke-linejoin="round"/>
<path d="M307,566 L307,472 Q307,459 320,456.5 Q517.5,393 715,457.5 Q728,460 728,472 L728,566" fill="none" stroke="#ececec" stroke-width="1.51" stroke-linejoin="round"/>
<path d="M334,553.3 L701,553.3 A97,97 0 0 1 708.6,732.5 L326.4,732.5 A97,97 0 0 1 334,553.3 Z" fill="none" stroke="#a9a9a9" stroke-width="4.2" stroke-linejoin="round"/>
<path d="M334,553.3 L701,553.3 A97,97 0 0 1 708.6,732.5 L326.4,732.5 A97,97 0 0 1 334,553.3 Z" fill="none" stroke="#ececec" stroke-width="1.51" stroke-linejoin="round"/>
<path d="M708.6,732.5 C690,800 610,880 517.5,917 C425,880 345,800 326.4,732.5" fill="none" stroke="#a9a9a9" stroke-width="4.2" stroke-linejoin="round"/>
<path d="M708.6,732.5 C690,800 610,880 517.5,917 C425,880 345,800 326.4,732.5" fill="none" stroke="#ececec" stroke-width="1.51" stroke-linejoin="round"/>
<path d="M319,561 L319,481 Q319,472 329,470 Q517.5,408 706,470 Q716,472 716,481 L716,561" fill="none" stroke="#a9a9a9" stroke-width="2.6" stroke-linejoin="round"/>
<path d="M319,561 L319,481 Q319,472 329,470 Q517.5,408 706,470 Q716,472 716,481 L716,561" fill="none" stroke="#ececec" stroke-width="0.94" stroke-linejoin="round"/>
<path d="M701,558.5 A92,92 0 0 1 706,727.5" fill="none" stroke="#a9a9a9" stroke-width="2.4" stroke-linejoin="round"/>
<path d="M701,558.5 A92,92 0 0 1 706,727.5" fill="none" stroke="#ececec" stroke-width="0.86" stroke-linejoin="round"/>
<path d="M334,558.5 A92,92 0 0 0 329,727.5" fill="none" stroke="#a9a9a9" stroke-width="2.4" stroke-linejoin="round"/>
<path d="M334,558.5 A92,92 0 0 0 329,727.5" fill="none" stroke="#ececec" stroke-width="0.86" stroke-linejoin="round"/>
<path d="M697.2,736.3 C680,800 604,872 517.5,908 C431,872 355,800 337.8,736.3" fill="none" stroke="#a9a9a9" stroke-width="2.4" stroke-linejoin="round"/>
<path d="M697.2,736.3 C680,800 604,872 517.5,908 C431,872 355,800 337.8,736.3" fill="none" stroke="#ececec" stroke-width="0.86" stroke-linejoin="round"/>
<text transform="translate(301.5,702.8) scale(1.955,1.714)" font-size="100" font-weight="bold" style="font-family:'DejaVu Sans','Liberation Sans',sans-serif" fill="none" stroke="#aeaeae" stroke-width="3.87" vector-effect="non-scaling-stroke" stroke-linejoin="round">Э</text>
<text transform="translate(438.3,701.2) scale(1.8175,1.69)" font-size="100" font-weight="bold" style="font-family:'DejaVu Sans','Liberation Sans',sans-serif" fill="none" stroke="#aeaeae" stroke-width="3.87" vector-effect="non-scaling-stroke" stroke-linejoin="round">П</text>
<text transform="translate(583.3,702.2) scale(1.665,1.703)" font-size="100" font-weight="bold" style="font-family:'DejaVu Sans','Liberation Sans',sans-serif" fill="none" stroke="#aeaeae" stroke-width="3.87" vector-effect="non-scaling-stroke" stroke-linejoin="round">Ф</text>
<text x="372.5" y="521.5" font-size="35.5" font-weight="bold" textLength="102" lengthAdjust="spacingAndGlyphs" fill="none" stroke="#a9a9a9" stroke-width="1.6">ТЕХНИКА</text>
<text x="560.5" y="521.5" font-size="35.5" font-weight="bold" textLength="116.5" lengthAdjust="spacingAndGlyphs" fill="none" stroke="#a9a9a9" stroke-width="1.6">ЗАПЧАСТИ</text>
<polygon points="533.3,507.4 533.3,510.6 529.5,511.6 528.7,513.7 530.6,517.0 528.4,519.2 525.1,517.3 523.0,518.1 522.0,521.9 518.8,521.9 517.8,518.1 515.7,517.3 512.4,519.2 510.2,517.0 512.1,513.7 511.3,511.6 507.5,510.6 507.5,507.4 511.3,506.4 512.1,504.3 510.2,501.0 512.4,498.8 515.7,500.7 517.8,499.9 518.8,496.1 522.0,496.1 523.0,499.9 525.1,500.7 528.4,498.8 530.6,501.0 528.7,504.3 529.5,506.4" fill="none" stroke="#a9a9a9" stroke-width="1.5" stroke-linejoin="round"/>
<ellipse cx="520.4" cy="509.0" rx="4.6" ry="4.6" transform="rotate(0.0 520.4 509.0)" fill="none" stroke="#a9a9a9" stroke-width="1.5"/>
<polygon points="516.9,791.7 502.6,784.1 502.6,768.9 516.9,761.3 531.2,768.9 531.2,784.1" fill="none" stroke="#bdbdbd" stroke-width="1.7" stroke-linejoin="round"/>
<line x1="492.5" y1="788.0" x2="492.5" y2="900.0" stroke="#bdbdbd" stroke-width="1.7" stroke-linecap="butt"/>
<line x1="542.8" y1="788.0" x2="542.8" y2="896.0" stroke="#bdbdbd" stroke-width="1.7" stroke-linecap="butt"/>
<line x1="514.4" y1="792.0" x2="514.4" y2="908.0" stroke="#bdbdbd" stroke-width="1.7" stroke-linecap="butt"/>
<line x1="520.7" y1="792.0" x2="520.7" y2="908.0" stroke="#bdbdbd" stroke-width="1.7" stroke-linecap="butt"/>
<line x1="492.5" y1="788.0" x2="514.4" y2="799.5" stroke="#bdbdbd" stroke-width="1.7" stroke-linecap="butt"/>
<line x1="542.8" y1="788.0" x2="520.7" y2="799.5" stroke="#bdbdbd" stroke-width="1.7" stroke-linecap="butt"/>
<line x1="492.5" y1="806.9" x2="514.4" y2="818.4" stroke="#bdbdbd" stroke-width="1.7" stroke-linecap="butt"/>
<line x1="542.8" y1="806.9" x2="520.7" y2="818.4" stroke="#bdbdbd" stroke-width="1.7" stroke-linecap="butt"/>
<line x1="492.5" y1="825.8" x2="514.4" y2="837.3" stroke="#bdbdbd" stroke-width="1.7" stroke-linecap="butt"/>
<line x1="542.8" y1="825.8" x2="520.7" y2="837.3" stroke="#bdbdbd" stroke-width="1.7" stroke-linecap="butt"/>
<line x1="492.5" y1="844.7" x2="514.4" y2="856.2" stroke="#bdbdbd" stroke-width="1.7" stroke-linecap="butt"/>
<line x1="542.8" y1="844.7" x2="520.7" y2="856.2" stroke="#bdbdbd" stroke-width="1.7" stroke-linecap="butt"/>
<line x1="492.5" y1="863.6" x2="514.4" y2="875.1" stroke="#bdbdbd" stroke-width="1.7" stroke-linecap="butt"/>
<line x1="542.8" y1="863.6" x2="520.7" y2="875.1" stroke="#bdbdbd" stroke-width="1.7" stroke-linecap="butt"/>
<line x1="492.5" y1="882.5" x2="514.4" y2="894.0" stroke="#bdbdbd" stroke-width="1.7" stroke-linecap="butt"/>
<line x1="542.8" y1="882.5" x2="520.7" y2="894.0" stroke="#bdbdbd" stroke-width="1.7" stroke-linecap="butt"/>
<line x1="492.5" y1="901.4" x2="514.4" y2="912.9" stroke="#bdbdbd" stroke-width="1.7" stroke-linecap="butt"/>
<line x1="542.8" y1="901.4" x2="520.7" y2="912.9" stroke="#bdbdbd" stroke-width="1.7" stroke-linecap="butt"/>
<line x1="425.7" y1="817.7" x2="477.7" y2="900.7" stroke="#bdbdbd" stroke-width="1.7" stroke-linecap="butt"/>
<line x1="450.3" y1="802.3" x2="502.3" y2="885.3" stroke="#bdbdbd" stroke-width="1.7" stroke-linecap="butt"/>
<line x1="436.7" y1="810.8" x2="488.7" y2="893.8" stroke="#bdbdbd" stroke-width="1.7" stroke-linecap="butt"/>
<line x1="439.3" y1="809.2" x2="491.3" y2="892.2" stroke="#bdbdbd" stroke-width="1.7" stroke-linecap="butt"/>
<line x1="425.7" y1="817.7" x2="444.5" y2="823.2" stroke="#bdbdbd" stroke-width="1.7" stroke-linecap="butt"/>
<line x1="450.3" y1="802.3" x2="447.1" y2="821.7" stroke="#bdbdbd" stroke-width="1.7" stroke-linecap="butt"/>
<line x1="436.1" y1="834.3" x2="454.9" y2="839.8" stroke="#bdbdbd" stroke-width="1.7" stroke-linecap="butt"/>
<line x1="460.7" y1="818.9" x2="457.5" y2="838.3" stroke="#bdbdbd" stroke-width="1.7" stroke-linecap="butt"/>
<line x1="446.5" y1="850.9" x2="465.3" y2="856.4" stroke="#bdbdbd" stroke-width="1.7" stroke-linecap="butt"/>
<line x1="471.1" y1="835.5" x2="467.9" y2="854.9" stroke="#bdbdbd" stroke-width="1.7" stroke-linecap="butt"/>
<line x1="456.9" y1="867.5" x2="475.7" y2="873.0" stroke="#bdbdbd" stroke-width="1.7" stroke-linecap="butt"/>
<line x1="481.5" y1="852.1" x2="478.3" y2="871.5" stroke="#bdbdbd" stroke-width="1.7" stroke-linecap="butt"/>
<line x1="467.3" y1="884.1" x2="486.1" y2="889.6" stroke="#bdbdbd" stroke-width="1.7" stroke-linecap="butt"/>
<line x1="491.9" y1="868.7" x2="488.7" y2="888.1" stroke="#bdbdbd" stroke-width="1.7" stroke-linecap="butt"/>
<polygon points="592.4,824.1 582.4,818.8 582.4,808.2 592.4,802.9 602.4,808.2 602.4,818.8" fill="none" stroke="#bdbdbd" stroke-width="1.7" stroke-linejoin="round"/>
<line x1="574.5" y1="819.7" x2="538.5" y2="890.7" stroke="#bdbdbd" stroke-width="1.7" stroke-linecap="butt"/>
<line x1="599.5" y1="832.3" x2="563.5" y2="903.3" stroke="#bdbdbd" stroke-width="1.7" stroke-linecap="butt"/>
<line x1="585.7" y1="825.3" x2="549.7" y2="896.3" stroke="#bdbdbd" stroke-width="1.7" stroke-linecap="butt"/>
<line x1="588.3" y1="826.7" x2="552.3" y2="897.7" stroke="#bdbdbd" stroke-width="1.7" stroke-linecap="butt"/>
<line x1="574.5" y1="819.7" x2="580.3" y2="836.0" stroke="#bdbdbd" stroke-width="1.7" stroke-linecap="butt"/>
<line x1="599.5" y1="832.3" x2="582.9" y2="837.3" stroke="#bdbdbd" stroke-width="1.7" stroke-linecap="butt"/>
<line x1="567.3" y1="833.9" x2="573.1" y2="850.2" stroke="#bdbdbd" stroke-width="1.7" stroke-linecap="butt"/>
<line x1="592.3" y1="846.5" x2="575.7" y2="851.5" stroke="#bdbdbd" stroke-width="1.7" stroke-linecap="butt"/>
<line x1="560.1" y1="848.1" x2="565.9" y2="864.4" stroke="#bdbdbd" stroke-width="1.7" stroke-linecap="butt"/>
<line x1="585.1" y1="860.7" x2="568.5" y2="865.7" stroke="#bdbdbd" stroke-width="1.7" stroke-linecap="butt"/>
<line x1="552.9" y1="862.3" x2="558.7" y2="878.6" stroke="#bdbdbd" stroke-width="1.7" stroke-linecap="butt"/>
<line x1="577.9" y1="874.9" x2="561.3" y2="879.9" stroke="#bdbdbd" stroke-width="1.7" stroke-linecap="butt"/>
<line x1="545.7" y1="876.5" x2="551.5" y2="892.8" stroke="#bdbdbd" stroke-width="1.7" stroke-linecap="butt"/>
<line x1="570.7" y1="889.1" x2="554.1" y2="894.1" stroke="#bdbdbd" stroke-width="1.7" stroke-linecap="butt"/>
</g>
<g opacity="0.999">
<text x="412.5" y="40.7" font-size="18" text-anchor="start" fill="#1a1a1a" >15 (R.H.)</text>
<text x="417.5" y="62.1" font-size="18" text-anchor="start" fill="#1a1a1a" >8 (L.H.)</text>
<text x="561.6" y="20.6" font-size="18" text-anchor="start" fill="#1a1a1a" >19</text>
<text x="580.0" y="46.3" font-size="18" text-anchor="start" fill="#1a1a1a" >20</text>
<text x="605.1" y="111.1" font-size="18" text-anchor="start" fill="#1a1a1a" >27</text>
<text x="622.2" y="77.5" font-size="18" text-anchor="start" fill="#1a1a1a" >26</text>
<text x="532.7" y="154.4" font-size="18" text-anchor="start" fill="#1a1a1a" >28</text>
<text x="350.2" y="99.8" font-size="18" text-anchor="start" fill="#1a1a1a" >33</text>
<text x="368.8" y="228.1" font-size="18" text-anchor="start" fill="#1a1a1a" >5</text>
<text x="491.7" y="300.5" font-size="18" text-anchor="start" fill="#1a1a1a" >23</text>
<text x="527.7" y="316.8" font-size="18" text-anchor="start" fill="#1a1a1a" >22</text>
<text x="561.6" y="336.2" font-size="18" text-anchor="start" fill="#1a1a1a" >10</text>
<text x="253.2" y="304.1" font-size="18" text-anchor="start" fill="#1a1a1a" >21</text>
<text x="296.6" y="330.3" font-size="18" text-anchor="start" fill="#1a1a1a" >9</text>
<text x="423.8" y="399.5" font-size="18" text-anchor="start" fill="#1a1a1a" >4</text>
<text x="364.7" y="345.5" font-size="18" text-anchor="start" fill="#1a1a1a" >6</text>
<text x="376.0" y="434.2" font-size="18" text-anchor="start" fill="#1a1a1a" >30</text>
<text x="820.1" y="225.9" font-size="18" text-anchor="start" fill="#1a1a1a" >FRAME</text>
<text x="750.5" y="447.5" font-size="18" text-anchor="start" fill="#1a1a1a" >5</text>
<text x="689.7" y="605.0" font-size="18" text-anchor="start" fill="#1a1a1a" >6</text>
<text x="393.7" y="465.0" font-size="18" text-anchor="start" fill="#1a1a1a" >25</text>
<text x="421.3" y="485.0" font-size="18" text-anchor="start" fill="#1a1a1a" >24</text>
<text x="487.2" y="485.9" font-size="18" text-anchor="start" fill="#1a1a1a" >18</text>
<text x="426.2" y="518.4" font-size="18" text-anchor="start" fill="#1a1a1a" >2</text>
<text x="299.6" y="559.8" font-size="18" text-anchor="start" fill="#1a1a1a" >23</text>
<text x="332.0" y="578.3" font-size="18" text-anchor="start" fill="#1a1a1a" >22</text>
<text x="358.4" y="599.4" font-size="18" text-anchor="start" fill="#1a1a1a" >10</text>
<text x="431.1" y="632.5" font-size="18" text-anchor="start" fill="#1a1a1a" >10</text>
<text x="452.8" y="652.6" font-size="18" text-anchor="start" fill="#1a1a1a" >22</text>
<text x="492.4" y="657.3" font-size="18" text-anchor="start" fill="#1a1a1a" >23</text>
<text x="144.1" y="437.6" font-size="18" text-anchor="start" fill="#1a1a1a" >Serial No.</text>
<text x="134.0" y="458.7" font-size="18" text-anchor="start" fill="#1a1a1a" >1001 ~ 1394</text>
<text x="191.1" y="486.4" font-size="18" text-anchor="start" fill="#1a1a1a" >7</text>
<text x="152.1" y="607.1" font-size="18" text-anchor="start" fill="#1a1a1a" >7</text>
<text x="255.2" y="677.0" font-size="18" text-anchor="start" fill="#1a1a1a" >23</text>
<text x="289.2" y="695.1" font-size="18" text-anchor="start" fill="#1a1a1a" >22</text>
<text x="331.0" y="722.2" font-size="18" text-anchor="start" fill="#1a1a1a" >31A</text>
<text x="102.2" y="794.7" font-size="18" text-anchor="start" fill="#1a1a1a" >12</text>
<text x="133.6" y="810.3" font-size="18" text-anchor="start" fill="#1a1a1a" >13</text>
<text x="169.6" y="831.1" font-size="18" text-anchor="start" fill="#1a1a1a" >11</text>
<text x="255.6" y="834.9" font-size="18" text-anchor="start" fill="#1a1a1a" >21</text>
<text x="216.9" y="871.4" font-size="18" text-anchor="start" fill="#1a1a1a" >31B</text>
<text x="461.8" y="927.1" font-size="18" text-anchor="start" fill="#1a1a1a" >31 ( L.H )</text>
<text x="461.8" y="949.4" font-size="18" text-anchor="start" fill="#1a1a1a" >32 ( R.H )</text>
<text x="408.6" y="966.5" font-size="18" text-anchor="start" fill="#1a1a1a" >31B</text>
<text x="85.9" y="1052.8" font-size="18" text-anchor="start" fill="#1a1a1a" >14</text>
<text x="45.0" y="1150.1" font-size="18" text-anchor="start" fill="#1a1a1a" >Serial No.</text>
<text x="35.2" y="1172.0" font-size="18" text-anchor="start" fill="#1a1a1a" >1001 ~ 1394</text>
<text x="182.0" y="960.1" font-size="18" text-anchor="start" fill="#1a1a1a" >14</text>
<text x="491.6" y="1032.8" font-size="18" text-anchor="start" fill="#1a1a1a" >16</text>
<text x="497.8" y="1234.6" font-size="18" text-anchor="start" fill="#1a1a1a" >17</text>
<text x="204.9" y="1228.4" font-size="18" text-anchor="start" fill="#1a1a1a" >29 (R.H.)</text>
<text x="211.5" y="1249.7" font-size="18" text-anchor="start" fill="#1a1a1a" >3 (L.H.)</text>
<text x="742.4" y="1024.6" font-size="18" text-anchor="start" fill="#1a1a1a" >Serial No.</text>
<text x="732.6" y="1046.0" font-size="18" text-anchor="start" fill="#1a1a1a" >1001 ~ 1919</text>
<text x="660.9" y="1027.9" font-size="18" text-anchor="start" fill="#1a1a1a" >1A</text>
<text x="820.4" y="1105.2" font-size="18" text-anchor="start" fill="#1a1a1a" >1A</text>
<text x="567.2" y="1177.5" font-size="18" text-anchor="start" fill="#1a1a1a" >1B</text>
<text x="743.1" y="1273.6" font-size="18" text-anchor="start" fill="#1a1a1a" >1B</text>
<text x="777.6" y="1208.8" font-size="18" text-anchor="start" fill="#1a1a1a" >1</text>
<text x="529.4" y="806.5" font-size="18" text-anchor="start" fill="#1a1a1a" >31A</text>
<text x="570.2" y="819.5" font-size="18" text-anchor="start" fill="#1a1a1a" >22</text>
<text x="605.4" y="841.7" font-size="18" text-anchor="start" fill="#1a1a1a" >23</text>
</g>
</svg>
</body></html>
